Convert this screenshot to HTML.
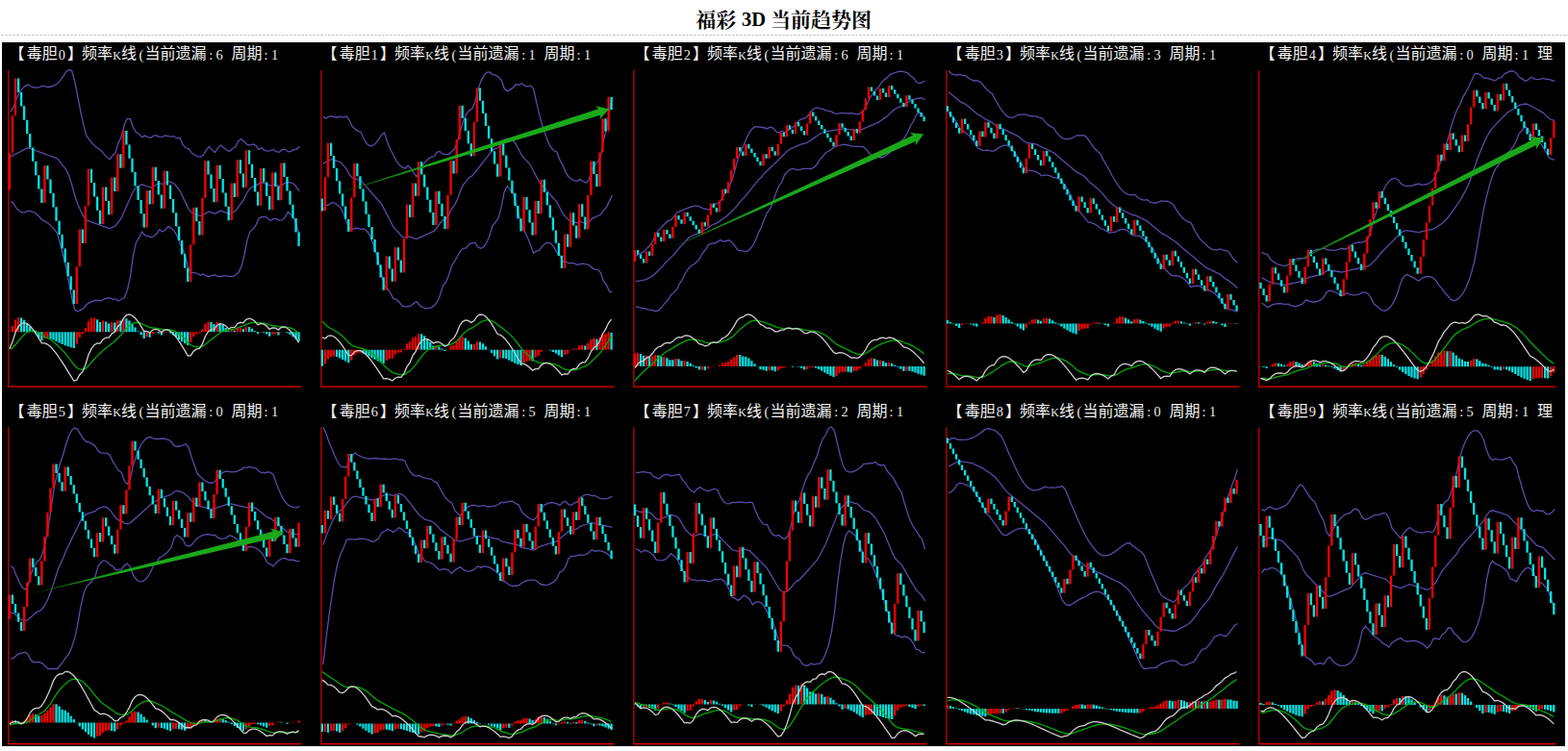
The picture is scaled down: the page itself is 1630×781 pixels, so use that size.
<!DOCTYPE html><html><head><meta charset="utf-8"><title>3D</title><style>html,body{margin:0;padding:0;background:#fff;overflow:hidden}body{width:1630px;height:781px;font-family:"Liberation Sans",sans-serif}</style></head><body><svg width="1630" height="781" viewBox="0 0 1630 781" style="display:block"><g fill="#000" font-family="'Liberation Serif','Noto Serif CJK SC',serif" font-weight="bold" font-size="21px"><text x="723.2" y="28.1">福彩</text><text x="801" y="28.1">当前趋势图</text></g><text x="771" y="27.3" font-family="Liberation Serif, serif" font-weight="bold" font-size="20.5px" fill="#000">3D</text><line x1="1" y1="36.5" x2="1630" y2="36.5" stroke="#c8c8c8" stroke-width="1" stroke-dasharray="3 1"/><rect x="2" y="44" width="1625" height="732" fill="#000"/><g><text y="61.2" fill="#f2f2f2" font-family="'Liberation Sans','Noto Sans CJK SC',sans-serif" font-size="16px"><tspan x="9.6">【</tspan><tspan x="27.7">毒胆</tspan><tspan x="70">】</tspan><tspan x="85">频率</tspan><tspan x="126">线</tspan><tspan x="150.5">当前遗漏</tspan><tspan x="240.6">周期</tspan></text><text y="61.7" fill="#ececec" font-family="'Liberation Serif',serif" font-size="14.4px"><tspan x="60.8">0</tspan><tspan x="117.3" font-size="12px">K</tspan><tspan x="144.6">(</tspan><tspan x="217.2">:</tspan><tspan x="224.6">6</tspan><tspan x="274.6">:</tspan><tspan x="282">1</tspan></text><path d="M8.8 73V402.1H313.5" fill="none" stroke="#f00000" stroke-width="1.1"/><polyline points="10.9,116.3 13.9,111.6 16.9,103.2 20,97 23,92.6 26,89.6 29.1,88.1 32.1,90 35.2,91 38.2,91.2 41.2,90.6 44.3,89.2 47.3,90.2 50.3,90.5 53.4,90 56.4,88.8 59.5,87 62.5,83.9 65.5,79.7 68.6,74.6 71.6,72.5 74.6,73.3 77.7,84.5 80.7,99.8 83.7,115.3 86.8,129.6 89.8,141.1 92.9,145.3 95.9,149 98.9,152.1 102,154.5 105,156.2 108,160.1 111.1,163.4 114.1,165.9 117.2,161.5 120.2,158.4 123.2,148.2 126.3,141.8 129.3,129.5 132.3,123.4 135.4,123.7 138.4,132.3 141.5,137.8 144.5,139.2 147.5,142.7 150.6,141.1 153.6,142.7 156.6,143.3 159.7,141.2 162.7,140.8 165.7,142.3 168.8,142.2 171.8,141 174.9,141.7 177.9,142.2 180.9,141.6 184,143.9 187,143.4 190,150.4 193.1,154 196.1,154.6 199.2,158.9 202.2,161.2 205.2,162.6 208.3,163.1 211.3,161.3 214.3,156.2 217.4,152.6 220.4,155.9 223.5,158.5 226.5,153.9 229.5,150.8 232.6,153.8 235.6,156 238.6,157.4 241.7,154.5 244.7,152.9 247.7,146.6 250.8,144.5 253.8,147.2 256.9,150.3 259.9,150.9 262.9,150 266,151.3 269,155.3 272,153.7 275.1,156.3 278.1,157.2 281.2,156.6 284.2,155.5 287.2,157.7 290.3,158.3 293.3,155.5 296.3,155.3 299.4,157.8 302.4,157.4 305.5,155.5 308.5,155.3 311.5,152.2" fill="none" stroke="#5a4aa8" stroke-width="1.3"/><polyline points="10.9,162.9 13.9,161.4 16.9,159.8 20,158.3 23,156.7 26,155.2 29.1,153.7 32.1,154.8 35.2,155.9 38.2,157 41.2,158.1 44.3,159.2 47.3,160.3 50.3,161.5 53.4,162.6 56.4,163.7 59.5,164.8 62.5,168.6 65.5,172.3 68.6,176.1 71.6,182.5 74.6,191.6 77.7,203.3 80.7,212.3 83.7,218.8 86.8,225.2 89.8,228.9 92.9,230.1 95.9,231.2 98.9,232.3 102,233.4 105,234.5 108,235.6 111.1,236.7 114.1,237.8 117.2,236.3 120.2,234.8 123.2,230.6 126.3,226.4 129.3,219.6 132.3,212.7 135.4,205.9 138.4,199 141.5,194.9 144.5,193.3 147.5,191.8 150.6,192.9 153.6,194 156.6,195.1 159.7,193.6 162.7,192 165.7,190.5 168.8,191.6 171.8,190.1 174.9,188.5 177.9,189.7 180.9,190.8 184,194.5 187,198.3 190,204.7 193.1,211.1 196.1,217.5 199.2,221.3 202.2,222.4 205.2,223.5 208.3,224.6 211.3,223.1 214.3,221.6 217.4,220 220.4,221.1 223.5,222.3 226.5,220.7 229.5,219.2 232.6,220.3 235.6,221.4 238.6,222.5 241.7,221 244.7,219.4 247.7,215.3 250.8,211.1 253.8,206.9 256.9,200 259.9,195.9 262.9,194.3 266,192.8 269,191.2 272,189.7 275.1,190.8 278.1,191.9 281.2,193.1 284.2,191.5 287.2,192.6 290.3,193.7 293.3,192.2 296.3,190.7 299.4,189.1 302.4,190.2 305.5,191.4 308.5,195.1 311.5,198.9" fill="none" stroke="#5a4aa8" stroke-width="1.3"/><polyline points="10.9,209.5 13.9,211.1 16.9,216.4 20,219.5 23,220.9 26,220.8 29.1,219.2 32.1,219.6 35.2,220.8 38.2,222.8 41.2,225.7 44.3,229.2 47.3,230.4 50.3,232.4 53.4,235.1 56.4,238.6 59.5,242.6 62.5,253.2 65.5,265 68.6,277.5 71.6,293.8 74.6,309.9 77.7,322.1 80.7,324 83.7,322.3 86.8,320.7 89.8,316.8 92.9,314.8 95.9,313.3 98.9,312.5 102,312.3 105,312.8 108,311.1 111.1,310.1 114.1,309.7 117.2,311.1 120.2,311.2 123.2,313 126.3,311 129.3,309.6 132.3,302 135.4,288.1 138.4,265.8 141.5,252 144.5,247.4 147.5,240.9 150.6,244.7 153.6,245.3 156.6,246.9 159.7,246 162.7,243.3 165.7,238.7 168.8,241 171.8,239.2 174.9,235.4 177.9,237.1 180.9,240 184,245.2 187,253.2 190,259 193.1,268.3 196.1,280.5 199.2,283.7 202.2,283.6 205.2,284.5 208.3,286.2 211.3,284.9 214.3,287 217.4,287.5 220.4,286.4 223.5,286 226.5,287.5 229.5,287.5 232.6,286.8 235.6,286.8 238.6,287.7 241.7,287.5 244.7,286 247.7,283.9 250.8,277.6 253.8,266.5 256.9,249.8 259.9,240.8 262.9,238.6 266,234.2 269,227.2 272,225.7 275.1,225.4 278.1,226.7 281.2,229.5 284.2,227.5 287.2,227.6 290.3,229.1 293.3,228.9 296.3,226.1 299.4,220.4 302.4,223.1 305.5,227.2 308.5,234.9 311.5,245.6" fill="none" stroke="#5a4aa8" stroke-width="1.3"/><path d="M9.9 158.9v38.6M13 120.2v38.6M16 81.6v38.6M46.4 172.2v38.6M79.8 277.3v38.6M82.8 238.6v38.6M88.9 214.3v38.6M91.9 175.7v38.6M107.1 194.5v38.6M116.2 184.6v38.6M122.3 160.3v38.6M128.4 136v38.6M152.7 198v38.6M158.8 173.7v38.6M170.9 178.1v38.6M198.2 254.4v38.6M201.3 215.8v38.6M210.4 205.9v38.6M213.4 167.2v38.6M225.6 171.7v38.6M240.8 190.5v38.6M246.8 166.2v38.6M255.9 156.3v38.6M271.1 175.1v38.6M283.3 179.6v38.6M292.4 169.6v38.6" stroke="#ff0000" stroke-width="2.3" fill="none"/><path d="M19.1 81.6v14.4M22.1 96v14.4M25.1 110.3v14.4M28.2 124.7v14.4M31.2 139.1v14.4M34.2 153.4v14.4M37.3 167.8v14.4M40.3 182.2v14.4M43.4 196.5v14.4M49.4 172.2v14.4M52.5 186.6v14.4M55.5 201v14.4M58.5 215.3v14.4M61.6 229.7v14.4M64.6 244.1v14.4M67.7 258.4v14.4M70.7 272.8v14.4M73.7 287.2v14.4M76.8 301.5v14.4M85.9 238.6v14.4M95 175.7v14.4M98 190.1v14.4M101.1 204.4v14.4M104.1 218.8v14.4M110.2 194.5v14.4M113.2 208.9v14.4M119.3 184.6v14.4M125.4 160.3v14.4M131.4 136v14.4M134.5 150.4v14.4M137.5 164.8v14.4M140.5 179.1v14.4M143.6 193.5v14.4M146.6 207.9v14.4M149.7 222.2v14.4M155.7 198v14.4M161.8 173.7v14.4M164.8 188v14.4M167.9 202.4v14.4M173.9 178.1v14.4M177 192.5v14.4M180 206.9v14.4M183.1 221.2v14.4M186.1 235.6v14.4M189.1 250v14.4M192.2 264.3v14.4M195.2 278.7v14.4M204.3 215.8v14.4M207.4 230.1v14.4M216.5 167.2v14.4M219.5 181.6v14.4M222.5 195.9v14.4M228.6 171.7v14.4M231.7 186v14.4M234.7 200.4v14.4M237.7 214.8v14.4M243.8 190.5v14.4M249.9 166.2v14.4M252.9 180.6v14.4M259 156.3v14.4M262 170.7v14.4M265.1 185v14.4M268.1 199.4v14.4M274.2 175.1v14.4M277.2 189.5v14.4M280.2 203.8v14.4M286.3 179.6v14.4M289.4 193.9v14.4M295.4 169.6v14.4M298.5 184v14.4M301.5 198.4v14.4M304.5 212.7v14.4M307.6 227.1v14.4M310.6 241.5v14.4" stroke="#00e6e6" stroke-width="2.3" fill="none"/><path d="M9.9 345.2V344.6M13 345.2V339.1M16 345.2V332.5M19.1 345.2V330.2M46.4 345.2V352.1M49.4 345.2V351.8M79.8 345.2V357.8M82.8 345.2V351M85.9 345.2V347.2M88.9 345.2V341.1M91.9 345.2V333.9M95 345.2V330.8M98 345.2V330.6M107.1 345.2V333.6M116.2 345.2V335M122.3 345.2V333.2M128.4 345.2V330.8M152.7 345.2V350.5M158.8 345.2V347.2M161.8 345.2V346.2M170.9 345.2V345.9M173.9 345.2V345.5M198.2 345.2V356.2M201.3 345.2V350.3M204.3 345.2V347.4M207.4 345.2V346.6M210.4 345.2V342.6M213.4 345.2V336.7M216.5 345.2V334.6M225.6 345.2V335.2M240.8 345.2V343.1M246.8 345.2V340.9M249.9 345.2V340.7M255.9 345.2V339.8M271.1 345.2V345.8M283.3 345.2V347.6M286.3 345.2V347.4M292.4 345.2V345.7M295.4 345.2V345.2" stroke="#ff0000" stroke-width="2.25" fill="none"/><path d="M22.1 345.2V330.6M25.1 345.2V332.8M28.2 345.2V336.1M31.2 345.2V339.8M34.2 345.2V343.7M37.3 345.2V347.4M40.3 345.2V350.9M43.4 345.2V354M52.5 345.2V352.4M55.5 345.2V353.6M58.5 345.2V355M61.6 345.2V356.5M64.6 345.2V357.9M67.7 345.2V359.2M70.7 345.2V360.3M73.7 345.2V361.2M76.8 345.2V361.9M101.1 345.2V332.2M104.1 345.2V334.9M110.2 345.2V334.5M113.2 345.2V336.6M119.3 345.2V335.6M125.4 345.2V333.4M131.4 345.2V331.2M134.5 345.2V333.4M137.5 345.2V336.7M140.5 345.2V340.5M143.6 345.2V344.5M146.6 345.2V348.3M149.7 345.2V351.9M155.7 345.2V350.7M164.8 345.2V346.8M167.9 345.2V348.4M177 345.2V346.6M180 345.2V348.4M183.1 345.2V350.6M186.1 345.2V352.9M189.1 345.2V355.2M192.2 345.2V357.3M195.2 345.2V359.1M219.5 345.2V335M222.5 345.2V336.9M228.6 345.2V335.9M231.7 345.2V338M234.7 345.2V340.9M237.7 345.2V344.2M243.8 345.2V343.7M252.9 345.2V342M259 345.2V340M262 345.2V341.7M265.1 345.2V344.2M268.1 345.2V347.2M274.2 345.2V346.1M277.2 345.2V347.6M280.2 345.2V349.7M289.4 345.2V348.5M298.5 345.2V346.2M301.5 345.2V348M304.5 345.2V350.3M307.6 345.2V352.7M310.6 345.2V355.1" stroke="#00e6e6" stroke-width="2.25" fill="none"/><polyline points="9.9,363.2 13,361.7 16,358.5 19.1,354.7 22.1,351.1 25.1,348 28.2,345.7 31.2,344.4 34.2,344 37.3,344.5 40.3,346 43.4,348.2 46.4,349.9 49.4,351.5 52.5,353.3 55.5,355.4 58.5,357.9 61.6,360.7 64.6,363.9 67.7,367.4 70.7,371.2 73.7,375.2 76.8,379.3 79.8,382.5 82.8,383.9 85.9,384.4 88.9,383.4 91.9,380.6 95,377 98,373.3 101.1,370.1 104.1,367.5 107.1,364.6 110.2,361.9 113.2,359.7 116.2,357.2 119.3,354.8 122.3,351.8 125.4,348.8 128.4,345.2 131.4,341.7 134.5,338.8 137.5,336.7 140.5,335.5 143.6,335.3 146.6,336.1 149.7,337.8 152.7,339.1 155.7,340.5 158.8,341 161.8,341.2 164.8,341.6 167.9,342.4 170.9,342.6 173.9,342.7 177,343 180,343.8 183.1,345.1 186.1,347.1 189.1,349.6 192.2,352.6 195.2,356.1 198.2,358.8 201.3,360.1 204.3,360.6 207.4,361 210.4,360.3 213.4,358.2 216.5,355.6 219.5,353 222.5,350.9 225.6,348.4 228.6,346.1 231.7,344.3 234.7,343.2 237.7,343 240.8,342.5 243.8,342.1 246.8,341 249.9,339.9 252.9,339.1 255.9,337.7 259,336.4 262,335.5 265.1,335.3 268.1,335.8 271.1,335.9 274.2,336.1 277.2,336.7 280.2,337.9 283.3,338.5 286.3,339 289.4,339.8 292.4,339.9 295.4,340 298.5,340.2 301.5,340.9 304.5,342.2 307.6,344 310.6,346.5" fill="none" stroke="#00aa00" stroke-width="1.3"/><polyline points="9.9,362.6 13,355.6 16,345.8 19.1,339.7 22.1,336.5 25.1,335.6 28.2,336.6 31.2,339 34.2,342.5 37.3,346.8 40.3,351.6 43.4,356.9 46.4,356.8 49.4,358.1 52.5,360.5 55.5,363.8 58.5,367.7 61.6,372 64.6,376.6 67.7,381.4 70.7,386.3 73.7,391.2 76.8,396 79.8,395.1 82.8,389.7 85.9,386.4 88.9,379.3 91.9,369.2 95,362.6 98,358.7 101.1,357 104.1,357.2 107.1,353 110.2,351.1 113.2,351.2 116.2,347 119.3,345.2 122.3,339.7 125.4,337 128.4,330.9 131.4,327.7 134.5,327 137.5,328.2 140.5,330.8 143.6,334.6 146.6,339.2 149.7,344.5 152.7,344.4 155.7,346 158.8,343 161.8,342.3 164.8,343.2 167.9,345.6 170.9,343.2 173.9,343 177,344.4 180,347 183.1,350.5 186.1,354.8 189.1,359.6 192.2,364.7 195.2,370 198.2,369.8 201.3,365.2 204.3,362.9 207.4,362.4 210.4,357.7 213.4,349.7 216.5,345 219.5,342.8 222.5,342.7 225.6,338.4 228.6,336.8 231.7,337.1 234.7,338.9 237.7,342 240.8,340.3 243.8,340.6 246.8,336.7 249.9,335.3 252.9,335.9 255.9,332.3 259,331.2 262,332 265.1,334.3 268.1,337.8 271.1,336.4 274.2,337 277.2,339.1 280.2,342.4 283.3,340.8 286.3,341.2 289.4,343.1 292.4,340.4 295.4,340 298.5,341.2 301.5,343.7 304.5,347.3 307.6,351.5 310.6,356.4" fill="none" stroke="#cdcdcd" stroke-width="1.3"/></g><g><text y="61.2" fill="#f2f2f2" font-family="'Liberation Sans','Noto Sans CJK SC',sans-serif" font-size="16px"><tspan x="334.6">【</tspan><tspan x="352.7">毒胆</tspan><tspan x="395">】</tspan><tspan x="410">频率</tspan><tspan x="451">线</tspan><tspan x="475.5">当前遗漏</tspan><tspan x="565.6">周期</tspan></text><text y="61.7" fill="#ececec" font-family="'Liberation Serif',serif" font-size="14.4px"><tspan x="385.8">1</tspan><tspan x="442.3" font-size="12px">K</tspan><tspan x="469.6">(</tspan><tspan x="542.2">:</tspan><tspan x="549.6">1</tspan><tspan x="599.6">:</tspan><tspan x="607">1</tspan></text><path d="M333.9 73V402.1H638.5" fill="none" stroke="#f00000" stroke-width="1.1"/><polyline points="335.9,121.2 338.9,123.1 341.9,121.1 345,120.8 348,121.9 351,122 354.1,121.2 357.1,122.1 360.2,120.8 363.2,125.2 366.2,131.5 369.3,134.4 372.3,136.4 375.3,137.5 378.4,144.8 381.4,149.6 384.5,151.7 387.5,151.3 390.5,148.9 393.6,145.1 396.6,140.2 399.6,138 402.7,147.7 405.7,155.3 408.7,160.8 411.8,166.8 414.8,171.1 417.9,173.7 420.9,175.2 423.9,172.4 427,175 430,179.6 433,183.8 436.1,177.3 439.1,172.1 442.2,168.2 445.2,165.3 448.2,163.4 451.3,162.5 454.3,158.4 457.3,157.5 460.4,160.2 463.4,160.7 466.5,160.3 469.5,157.8 472.5,154.8 475.6,147.6 478.6,135.7 481.6,125.9 484.7,118.7 487.7,115.1 490.7,113.2 493.8,106.2 496.8,93.6 499.9,84.6 502.9,78.6 505.9,75.3 509,74.9 512,77.6 515,78.2 518.1,79.9 521.1,83.2 524.2,91.8 527.2,94.9 530.2,93.4 533.3,91.2 536.3,87.8 539.3,88.3 542.4,87 545.4,89.2 548.5,89.9 551.5,89.1 554.5,92.1 557.6,106.1 560.6,118.8 563.6,129.7 566.7,139.4 569.7,147.4 572.7,153.3 575.8,156.8 578.8,157.8 581.9,166.3 584.9,171.6 587.9,178.9 591,183.7 594,186.3 597,187.9 600.1,188.4 603.1,186.4 606.2,188.8 609.2,190.1 612.2,187 615.3,176.2 618.3,171.6 621.3,168.6 624.4,162.6 627.4,146 630.5,134.3 633.5,115.1 636.5,101.8" fill="none" stroke="#5a4aa8" stroke-width="1.3"/><polyline points="335.9,169.8 338.9,168.4 341.9,167 345,165.6 348,166.6 351,167.7 354.1,168.7 357.1,172.1 360.2,175.6 363.2,181.5 366.2,184.9 369.3,185.9 372.3,186.9 375.3,188 378.4,191.4 381.4,194.9 384.5,198.3 387.5,201.8 390.5,205.2 393.6,208.7 396.6,212.1 399.6,218 402.7,223.9 405.7,229.7 408.7,235.6 411.8,239.1 414.8,242.5 417.9,246 420.9,247 423.9,245.6 427,246.6 430,247.6 433,248.6 436.1,247.2 439.1,245.8 442.2,244.4 445.2,243 448.2,241.6 451.3,240.2 454.3,236.4 457.3,232.5 460.4,228.7 463.4,227.3 466.5,223.4 469.5,217.2 472.5,213.3 475.6,207.1 478.6,198.4 481.6,192.1 484.7,188.3 487.7,184.4 490.7,183 493.8,179.2 496.8,175.3 499.9,171.5 502.9,167.7 505.9,163.8 509,160 512,156.1 515,154.7 518.1,153.3 521.1,149.5 524.2,145.6 527.2,144.2 530.2,145.3 533.3,146.3 536.3,149.7 539.3,155.6 542.4,161.5 545.4,164.9 548.5,168.4 551.5,171.8 554.5,177.7 557.6,183.6 560.6,189.5 563.6,192.9 566.7,196.4 569.7,199.8 572.7,203.3 575.8,206.7 578.8,210.2 581.9,216 584.9,221.9 587.9,225.4 591,228.8 594,229.8 597,230.9 600.1,231.9 603.1,230.5 606.2,231.5 609.2,232.5 612.2,231.1 615.3,227.3 618.3,225.9 621.3,224.5 624.4,223 627.4,219.2 630.5,215.4 633.5,209.1 636.5,202.8" fill="none" stroke="#5a4aa8" stroke-width="1.3"/><polyline points="335.9,218.5 338.9,213.8 341.9,212.9 345,210.4 348,211.3 351,213.3 354.1,216.2 357.1,222.2 360.2,230.4 363.2,237.7 366.2,238.3 369.3,237.5 372.3,237.5 375.3,238.4 378.4,238 381.4,240.1 384.5,244.9 387.5,252.2 390.5,261.5 393.6,272.3 396.6,284 399.6,297.9 402.7,300.1 405.7,304.2 408.7,310.4 411.8,311.3 414.8,313.9 417.9,318.2 420.9,318.8 423.9,318.8 427,318.2 430,315.6 433,313.5 436.1,317.2 439.1,319.5 442.2,320.7 445.2,320.7 448.2,319.8 451.3,317.9 454.3,314.3 457.3,307.5 460.4,297.1 463.4,293.8 466.5,286.5 469.5,276.6 472.5,271.8 475.6,266.5 478.6,261.1 481.6,258.3 484.7,257.8 487.7,253.7 490.7,252.8 493.8,252.2 496.8,257.1 499.9,258.4 502.9,256.7 505.9,252.3 509,245.1 512,234.6 515,231.3 518.1,226.8 521.1,215.7 524.2,199.5 527.2,193.6 530.2,197.1 533.3,201.3 536.3,211.7 539.3,222.9 542.4,235.9 545.4,240.6 548.5,246.9 551.5,254.6 554.5,263.3 557.6,261.1 560.6,260.1 563.6,256.1 566.7,253.3 569.7,252.2 572.7,253.2 575.8,256.7 578.8,262.6 581.9,265.8 584.9,272.2 587.9,271.8 591,273.9 594,273.4 597,273.8 600.1,275.4 603.1,274.6 606.2,274.2 609.2,274.9 612.2,275.3 615.3,278.4 618.3,280.1 621.3,280.3 624.4,283.5 627.4,292.4 630.5,296.4 633.5,303.1 636.5,303.8" fill="none" stroke="#5a4aa8" stroke-width="1.3"/><path d="M338 184.2v35.4M341 148.8v35.4M365.3 205.5v35.4M368.4 170.1v35.4M401.8 266.4v35.4M410.9 257.3v35.4M420 248.2v35.4M423 212.8v35.4M429.1 190.5v35.4M435.2 168.3v35.4M453.4 198.7v35.4M465.5 202.8v35.4M468.6 167.3v35.4M474.7 145.1v35.4M477.7 109.7v35.4M492.9 126.9v35.4M495.9 91.5v35.4M520.2 148.2v35.4M544.5 205v35.4M556.7 209.1v35.4M562.7 186.8v35.4M587 243.6v35.4M593.1 221.3v35.4M602.2 212.2v35.4M611.3 203.1v35.4M614.4 167.7v35.4M623.5 158.6v35.4M626.5 123.2v35.4M632.6 101v35.4" stroke="#ff0000" stroke-width="2.3" fill="none"/><path d="M334.9 206.4v13.2M344.1 148.8v13.2M347.1 161.9v13.2M350.1 175.1v13.2M353.2 188.3v13.2M356.2 201.4v13.2M359.2 214.6v13.2M362.3 227.8v13.2M371.4 170.1v13.2M374.4 183.3v13.2M377.5 196.4v13.2M380.5 209.6v13.2M383.5 222.8v13.2M386.6 235.9v13.2M389.6 249.1v13.2M392.7 262.3v13.2M395.7 275.4v13.2M398.7 288.6v13.2M404.8 266.4v13.2M407.8 279.5v13.2M413.9 257.3v13.2M416.9 270.4v13.2M426.1 212.8v13.2M432.1 190.5v13.2M438.2 168.3v13.2M441.2 181.4v13.2M444.3 194.6v13.2M447.3 207.8v13.2M450.4 220.9v13.2M456.4 198.7v13.2M459.5 211.8v13.2M462.5 225v13.2M471.6 167.3v13.2M480.7 109.7v13.2M483.8 122.8v13.2M486.8 136v13.2M489.8 149.2v13.2M498.9 91.5v13.2M502 104.7v13.2M505 117.8v13.2M508.1 131v13.2M511.1 144.2v13.2M514.1 157.3v13.2M517.2 170.5v13.2M523.2 148.2v13.2M526.3 161.4v13.2M529.3 174.6v13.2M532.4 187.7v13.2M535.4 200.9v13.2M538.4 214.1v13.2M541.5 227.2v13.2M547.5 205v13.2M550.6 218.2v13.2M553.6 231.3v13.2M559.7 209.1v13.2M565.8 186.8v13.2M568.8 200v13.2M571.8 213.2v13.2M574.9 226.3v13.2M577.9 239.5v13.2M580.9 252.7v13.2M584 265.8v13.2M590.1 243.6v13.2M596.1 221.3v13.2M599.2 234.5v13.2M605.2 212.2v13.2M608.3 225.4v13.2M617.4 167.7v13.2M620.4 180.9v13.2M629.5 123.2v13.2M635.6 101v13.2" stroke="#00e6e6" stroke-width="2.3" fill="none"/><path d="M338 363.8V378.4M341 363.8V373.4M344.1 363.8V371.1M347.1 363.8V370.5M365.3 363.8V374.7M368.4 363.8V369.6M371.4 363.8V367.3M374.4 363.8V366.8M401.8 363.8V374.9M404.8 363.8V373.3M407.8 363.8V372.7M410.9 363.8V368.7M413.9 363.8V366.8M416.9 363.8V366.4M420 363.8V362.8M423 363.8V357.4M426.1 363.8V355.3M429.1 363.8V351.2M432.1 363.8V350.3M435.2 363.8V347.3M453.4 363.8V359.3M465.5 363.8V363.6M468.6 363.8V359.8M471.6 363.8V358.8M474.7 363.8V355.6M477.7 363.8V351.2M480.7 363.8V350.3M492.9 363.8V357.7M495.9 363.8V355.2M520.2 363.8V372.4M544.5 363.8V377.3M547.5 363.8V375.8M550.6 363.8V375.3M556.7 363.8V371.8M559.7 363.8V370.1M562.7 363.8V365.7M565.8 363.8V363.8M568.8 363.8V363.6M587 363.8V368.9M590.1 363.8V368.1M593.1 363.8V364.2M596.1 363.8V362.7M599.2 363.8V362.7M602.2 363.8V359.6M605.2 363.8V358.8M611.3 363.8V357.1M614.4 363.8V352.9M617.4 363.8V351.8M623.5 363.8V350.9M626.5 363.8V347.5M629.5 363.8V347.3M632.6 363.8V345.1" stroke="#ff0000" stroke-width="2.25" fill="none"/><path d="M334.9 363.8V380.8M350.1 363.8V371.1M353.2 363.8V372.4M356.2 363.8V373.9M359.2 363.8V375.6M362.3 363.8V377.2M377.5 363.8V367.4M380.5 363.8V368.7M383.5 363.8V370.3M386.6 363.8V372.1M389.6 363.8V373.8M392.7 363.8V375.4M395.7 363.8V376.8M398.7 363.8V378M438.2 363.8V347.3M441.2 363.8V349.2M444.3 363.8V352.2M447.3 363.8V355.8M450.4 363.8V359.6M456.4 363.8V360.4M459.5 363.8V362.5M462.5 363.8V364.9M483.8 363.8V351.6M486.8 363.8V354.4M489.8 363.8V357.9M498.9 363.8V355.4M502 363.8V357.3M505 363.8V360.2M508.1 363.8V363.6M511.1 363.8V367.1M514.1 363.8V370.5M517.2 363.8V373.6M523.2 363.8V372.4M526.3 363.8V373.3M529.3 363.8V374.7M532.4 363.8V376.2M535.4 363.8V377.7M538.4 363.8V379.1M541.5 363.8V380.3M553.6 363.8V375.4M571.8 363.8V364.4M574.9 363.8V365.9M577.9 363.8V367.6M580.9 363.8V369.5M584 363.8V371.3M608.3 363.8V359.5M620.4 363.8V352.7M635.6 363.8V345.9" stroke="#00e6e6" stroke-width="2.25" fill="none"/><polyline points="334.9,333.8 338,337.5 341,339.9 344.1,341.7 347.1,343.3 350.1,345.2 353.2,347.3 356.2,349.8 359.2,352.7 362.3,356.1 365.3,358.8 368.4,360.2 371.4,361.1 374.4,361.8 377.5,362.7 380.5,363.9 383.5,365.5 386.6,367.6 389.6,370.1 392.7,373 395.7,376.2 398.7,379.8 401.8,382.5 404.8,384.9 407.8,387.1 410.9,388.4 413.9,389.1 416.9,389.7 420,389.5 423,387.9 426.1,385.7 429.1,382.6 432.1,379.2 435.2,375 438.2,370.9 441.2,367.3 444.3,364.4 447.3,362.3 450.4,361.3 453.4,360.1 456.4,359.3 459.5,358.9 462.5,359.2 465.5,359.1 468.6,358.1 471.6,356.9 474.7,354.8 477.7,351.6 480.7,348.2 483.8,345.2 486.8,342.8 489.8,341.3 492.9,339.8 495.9,337.6 498.9,335.5 502,333.8 505,332.9 508.1,332.9 511.1,333.7 514.1,335.3 517.2,337.8 520.2,339.9 523.2,342 526.3,344.4 529.3,347.1 532.4,350.2 535.4,353.7 538.4,357.5 541.5,361.6 544.5,364.9 547.5,367.9 550.6,370.8 553.6,373.7 556.7,375.7 559.7,377.2 562.7,377.7 565.8,377.7 568.8,377.6 571.8,377.8 574.9,378.3 577.9,379.2 580.9,380.6 584,382.5 587,383.8 590.1,384.8 593.1,384.9 596.1,384.6 599.2,384.3 602.2,383.3 605.2,382 608.3,380.9 611.3,379.2 614.4,376.5 617.4,373.5 620.4,370.7 623.5,367.4 626.5,363.4 629.5,359.2 632.6,354.5 635.6,350.1" fill="none" stroke="#00aa00" stroke-width="1.3"/><polyline points="334.9,350.8 338,352 341,349.4 344.1,348.9 347.1,350 350.1,352.4 353.2,355.8 356.2,359.9 359.2,364.5 362.3,369.5 365.3,369.6 368.4,366 371.4,364.6 374.4,364.7 377.5,366.3 380.5,368.8 383.5,372 386.6,375.9 389.6,380.1 392.7,384.6 395.7,389.2 398.7,393.9 401.8,393.6 404.8,394.4 407.8,396 410.9,393.2 413.9,392.1 416.9,392.3 420,388.4 423,381.4 426.1,377.1 429.1,369.9 432.1,365.6 435.2,358.5 438.2,354.4 441.2,352.6 444.3,352.7 447.3,354.3 450.4,357 453.4,355.6 456.4,355.9 459.5,357.5 462.5,360.3 465.5,358.8 468.6,354.1 471.6,351.9 474.7,346.6 477.7,339 480.7,334.6 483.8,333 486.8,333.4 489.8,335.4 492.9,333.6 495.9,328.9 498.9,327 502,327.3 505,329.3 508.1,332.6 511.1,336.9 514.1,342 517.2,347.5 520.2,348.4 523.2,350.6 526.3,353.9 529.3,357.9 532.4,362.5 535.4,367.5 538.4,372.7 541.5,378 544.5,378.4 547.5,379.9 550.6,382.2 553.6,385.2 556.7,383.6 559.7,383.5 562.7,379.6 565.8,377.7 568.8,377.4 571.8,378.3 574.9,380.3 577.9,383 580.9,386.3 584,389.9 587,388.8 590.1,389.1 593.1,385.3 596.1,383.4 599.2,383.1 602.2,379 605.2,377 608.3,376.6 611.3,372.5 614.4,365.5 617.4,361.4 620.4,359.5 623.5,354.5 626.5,347 629.5,342.6 632.6,335.8 635.6,332.2" fill="none" stroke="#cdcdcd" stroke-width="1.3"/></g><g><text y="61.2" fill="#f2f2f2" font-family="'Liberation Sans','Noto Sans CJK SC',sans-serif" font-size="16px"><tspan x="659.6">【</tspan><tspan x="677.7">毒胆</tspan><tspan x="720">】</tspan><tspan x="735">频率</tspan><tspan x="776">线</tspan><tspan x="800.5">当前遗漏</tspan><tspan x="890.6">周期</tspan></text><text y="61.7" fill="#ececec" font-family="'Liberation Serif',serif" font-size="14.4px"><tspan x="710.8">2</tspan><tspan x="767.3" font-size="12px">K</tspan><tspan x="794.6">(</tspan><tspan x="867.2">:</tspan><tspan x="874.6">6</tspan><tspan x="924.6">:</tspan><tspan x="932">1</tspan></text><path d="M658.9 73V402.1H963.5" fill="none" stroke="#f00000" stroke-width="1.1"/><polyline points="660.9,266.4 663.9,264.4 666.9,262.8 670,261.5 673,257.7 676,254.9 679.1,250 682.1,243.2 685.2,238.6 688.2,236 691.2,232.5 694.3,229.7 697.3,228.9 700.3,225.6 703.4,221.2 706.4,219.8 709.5,218.7 712.5,217.3 715.5,216.2 718.6,215.1 721.6,214.1 724.6,214.1 727.7,215.1 730.7,216.7 733.7,217.4 736.8,218.3 739.8,215.2 742.9,212.7 745.9,211.7 748.9,209.3 752,203.4 755,199.9 758,194.8 761.1,186.6 764.1,176.6 767.2,165.2 770.2,157 773.2,150.8 776.3,143 779.3,137.3 782.3,133.6 785.4,131.7 788.4,132 791.5,132.3 794.5,133 797.5,133.7 800.6,132.3 803.6,133 806.6,136.6 809.7,138 812.7,136.2 815.7,137.9 818.8,135.6 821.8,133.5 824.9,131.8 827.9,127.8 830.9,125.1 834,123.6 837,122.9 840,120.3 843.1,115.7 846.1,113 849.2,111.9 852.2,112.8 855.2,113.1 858.3,114.8 861.3,115.3 864.3,116.2 867.4,117.8 870.4,118.3 873.5,117.7 876.5,117.6 879.5,117.9 882.6,118 885.6,117.7 888.6,118.4 891.7,118.8 894.7,117.9 897.7,114.7 900.8,109.4 903.8,102.8 906.9,97.9 909.9,94.1 912.9,91.3 916,86.4 919,83 922,80.9 925.1,77.6 928.1,76.4 931.2,75.3 934.2,74.3 937.2,74.2 940.3,74.9 943.3,75.7 946.3,78.8 949.4,80.8 952.4,85 955.5,86.7 958.5,85.7 961.5,84.1" fill="none" stroke="#5a4aa8" stroke-width="1.3"/><polyline points="660.9,292.5 663.9,292.1 666.9,291.6 670,291.1 673,289.8 676,288.5 679.1,286.4 682.1,283.5 685.2,280.5 688.2,277.6 691.2,273.8 694.3,270.9 697.3,267.9 700.3,265 703.4,261.2 706.4,257.5 709.5,254.5 712.5,250.8 715.5,247.8 718.6,245.7 721.6,244.4 724.6,243.1 727.7,241.8 730.7,239.7 733.7,238.4 736.8,236.3 739.8,234.2 742.9,232.9 745.9,231.6 748.9,229.4 752,227.3 755,225.2 758,222.3 761.1,219.3 764.1,216.4 767.2,212.6 770.2,208.9 773.2,205.9 776.3,202.2 779.3,198.4 782.3,194.6 785.4,190.9 788.4,187.1 791.5,184.2 794.5,180.4 797.5,177.5 800.6,174.5 803.6,171.6 806.6,168.7 809.7,165.7 812.7,162.8 815.7,159.8 818.8,156.9 821.8,154.8 824.9,153.5 827.9,152.2 830.9,150.9 834,149.6 837,149.1 840,147.8 843.1,145.7 846.1,143.6 849.2,141.5 852.2,139.3 855.2,138 858.3,136.7 861.3,136.3 864.3,135.8 867.4,135.3 870.4,134.8 873.5,134.4 876.5,133.9 879.5,134.2 882.6,134.6 885.6,134.9 888.6,135.3 891.7,135.6 894.7,135.1 897.7,133.8 900.8,132.5 903.8,131.2 906.9,129.9 909.9,128.7 912.9,127.4 916,125.2 919,123.1 922,121 925.1,118.1 928.1,115.1 931.2,113 934.2,111.7 937.2,110.4 940.3,109.1 943.3,107 946.3,104.9 949.4,103.6 952.4,102.3 955.5,101.8 958.5,102.1 961.5,103.3" fill="none" stroke="#5a4aa8" stroke-width="1.3"/><polyline points="660.9,318.7 663.9,319.7 666.9,320.4 670,320.7 673,321.9 676,322.1 679.1,322.8 682.1,323.7 685.2,322.4 688.2,319.2 691.2,315.1 694.3,312.1 697.3,307 700.3,304.4 703.4,301.2 706.4,295.1 709.5,290.3 712.5,284.2 715.5,279.5 718.6,276.3 721.6,274.7 724.6,272.1 727.7,268.5 730.7,262.7 733.7,259.4 736.8,254.2 739.8,253.2 742.9,253 745.9,251.4 748.9,249.6 752,251.3 755,250.5 758,249.8 761.1,252.1 764.1,256.2 767.2,260.1 770.2,260.7 773.2,261.1 776.3,261.3 779.3,259.5 782.3,255.7 785.4,250 788.4,242.2 791.5,236 794.5,227.9 797.5,221.3 800.6,216.8 803.6,210.2 806.6,200.7 809.7,193.4 812.7,189.3 815.7,181.7 818.8,178.2 821.8,176.1 824.9,175.2 827.9,176.6 830.9,176.6 834,175.6 837,175.4 840,175.3 843.1,175.7 846.1,174.2 849.2,171 852.2,165.9 855.2,163 858.3,158.7 861.3,157.3 864.3,155.4 867.4,152.9 870.4,151.4 873.5,151.1 876.5,150.2 879.5,150.5 882.6,151.2 885.6,152.1 888.6,152.1 891.7,152.4 894.7,152.4 897.7,152.9 900.8,155.7 903.8,159.7 906.9,162 909.9,163.2 912.9,163.4 916,164 919,163.2 922,161.1 925.1,158.5 928.1,153.9 931.2,150.7 934.2,149.1 937.2,146.6 940.3,143.4 943.3,138.3 946.3,131 949.4,126.3 952.4,119.6 955.5,116.9 958.5,118.6 961.5,122.6" fill="none" stroke="#5a4aa8" stroke-width="1.3"/><path d="M660 260.1v12M672.1 261.5v12M678.2 253.9v12M681.2 242v12M690.3 238.9v12M699.4 235.8v12M702.5 223.9v12M711.6 220.8v12M729.8 231.1v12M735.9 223.5v12M738.9 211.6v12M748 208.5v12M751.1 196.5v12M757.1 189v12M760.2 177v12M763.2 165.1v12M766.2 153.1v12M775.4 150v12M793.6 160.3v12M799.7 152.8v12M808.8 149.7v12M811.8 137.7v12M817.9 130.2v12M827 127.1v12M839.1 128.5v12M842.2 116.5v12M869.5 140.2v12M872.5 128.2v12M887.7 134v12M893.8 126.5v12M896.8 114.5v12M899.9 102.6v12M902.9 90.6v12M915.1 92v12M924.2 88.9v12M942.4 99.2v12" stroke="#ff0000" stroke-width="2.3" fill="none"/><path d="M663 260.1v4.5M666 264.5v4.5M669.1 269v4.5M675.1 261.5v4.5M684.2 242v4.5M687.3 246.4v4.5M693.4 238.9v4.5M696.4 243.4v4.5M705.5 223.9v4.5M708.5 228.3v4.5M714.6 220.8v4.5M717.7 225.2v4.5M720.7 229.7v4.5M723.7 234.1v4.5M726.8 238.6v4.5M732.8 231.1v4.5M741.9 211.6v4.5M745 216v4.5M754.1 196.5v4.5M769.3 153.1v4.5M772.3 157.5v4.5M778.4 150v4.5M781.4 154.5v4.5M784.5 158.9v4.5M787.5 163.4v4.5M790.5 167.8v4.5M796.6 160.3v4.5M802.7 152.8v4.5M805.7 157.2v4.5M814.8 137.7v4.5M820.9 130.2v4.5M823.9 134.7v4.5M830 127.1v4.5M833.1 131.6v4.5M836.1 136v4.5M845.2 116.5v4.5M848.2 121v4.5M851.3 125.4v4.5M854.3 129.9v4.5M857.4 134.3v4.5M860.4 138.8v4.5M863.4 143.2v4.5M866.5 147.7v4.5M875.6 128.2v4.5M878.6 132.7v4.5M881.7 137.1v4.5M884.7 141.6v4.5M890.8 134v4.5M905.9 90.6v4.5M909 95v4.5M912 99.5v4.5M918.1 92v4.5M921.1 96.4v4.5M927.2 88.9v4.5M930.2 93.3v4.5M933.3 97.8v4.5M936.3 102.2v4.5M939.4 106.7v4.5M945.4 99.2v4.5M948.5 103.6v4.5M951.5 108.1v4.5M954.5 112.5v4.5M957.6 117v4.5M960.6 121.4v4.5" stroke="#00e6e6" stroke-width="2.3" fill="none"/><path d="M660 381V367.6M663 381V367M672.1 381V369.7M678.2 381V370.4M681.2 381V369M690.3 381V370.9M702.5 381V373.1M711.6 381V375M729.8 381V384.4M735.9 381V383.6M738.9 381V381.1M741.9 381V380.4M748 381V379.7M751.1 381V377.5M754.1 381V377.2M757.1 381V375.7M760.2 381V373.6M763.2 381V371.3M766.2 381V368.9M799.7 381V385M808.8 381V385.2M811.8 381V383M814.8 381V382.6M817.9 381V380.8M820.9 381V380.7M827 381V380.9M839.1 381V383.9M842.2 381V382.1M845.2 381V381.9M869.5 381V390.9M872.5 381V388.1M875.6 381V386.8M878.6 381V386.5M887.7 381V386.1M890.8 381V385.6M893.8 381V383.5M896.8 381V380.5M899.9 381V377M902.9 381V373.4M905.9 381V372.3M915.1 381V374.4M924.2 381V377.1M942.4 381V385.4" stroke="#ff0000" stroke-width="2.25" fill="none"/><path d="M666 381V367.9M669.1 381V369.7M675.1 381V370.9M684.2 381V369.4M687.3 381V371M693.4 381V372.2M696.4 381V374.2M699.4 381V374.2M705.5 381V373.6M708.5 381V375.2M714.6 381V376M717.7 381V377.8M720.7 381V380M723.7 381V382.4M726.8 381V384.6M732.8 381V384.9M745 381V380.9M769.3 381V369M772.3 381V370.6M775.4 381V370.9M778.4 381V372.6M781.4 381V375.2M784.5 381V378.2M787.5 381V381.3M790.5 381V384.3M793.6 381V384.7M796.6 381V385.8M802.7 381V385.2M805.7 381V386.2M823.9 381V381.7M830 381V381.4M833.1 381V382.7M836.1 381V384.4M848.2 381V382.7M851.3 381V384M854.3 381V385.7M857.4 381V387.5M860.4 381V389.1M863.4 381V390.7M866.5 381V392.1M881.7 381V386.8M884.7 381V387.5M909 381V372.9M912 381V374.5M918.1 381V375.4M921.1 381V377.3M927.2 381V378.1M930.2 381V379.8M933.3 381V381.8M936.3 381V383.8M939.4 381V385.9M945.4 381V385.8M948.5 381V386.6M951.5 381V387.6M954.5 381V388.7M957.6 381V389.8M960.6 381V390.8" stroke="#00e6e6" stroke-width="2.25" fill="none"/><polyline points="660,396 663,392.5 666,389.2 669.1,386.4 672.1,383.6 675.1,381.1 678.2,378.4 681.2,375.4 684.2,372.5 687.3,370 690.3,367.5 693.4,365.3 696.4,363.6 699.4,361.9 702.5,359.9 705.5,358.1 708.5,356.6 711.6,355.1 714.6,353.9 717.7,353.1 720.7,352.8 723.7,353.2 726.8,354.1 729.8,354.9 732.8,355.9 735.9,356.6 738.9,356.6 741.9,356.4 745,356.4 748,356.1 751.1,355.2 754.1,354.3 757.1,352.9 760.2,351.1 763.2,348.7 766.2,345.6 769.3,342.6 772.3,340 775.4,337.5 778.4,335.4 781.4,333.9 784.5,333.2 787.5,333.3 790.5,334.1 793.6,335 796.6,336.2 799.7,337.2 802.7,338.3 805.7,339.6 808.8,340.6 811.8,341.2 814.8,341.6 817.9,341.5 820.9,341.4 823.9,341.6 827,341.6 830,341.7 833.1,342.1 836.1,343 839.1,343.7 842.2,344 845.2,344.2 848.2,344.6 851.3,345.4 854.3,346.6 857.4,348.2 860.4,350.2 863.4,352.7 866.5,355.4 869.5,357.9 872.5,359.6 875.6,361.1 878.6,362.5 881.7,363.9 884.7,365.6 887.7,366.8 890.8,368 893.8,368.6 896.8,368.5 899.9,367.5 902.9,365.6 905.9,363.4 909,361.4 912,359.8 915.1,358.1 918.1,356.8 921.1,355.8 924.2,354.9 927.2,354.1 930.2,353.8 933.3,354 936.3,354.7 939.4,356 942.4,357.1 945.4,358.2 948.5,359.6 951.5,361.3 954.5,363.2 957.6,365.4 960.6,367.9" fill="none" stroke="#00aa00" stroke-width="1.3"/><polyline points="660,382.6 663,378.5 666,376.1 669.1,375.1 672.1,372.3 675.1,370.9 678.2,367.8 681.2,363.4 684.2,361 687.3,360.1 690.3,357.4 693.4,356.5 696.4,356.8 699.4,355.1 702.5,352 705.5,350.7 708.5,350.8 711.6,349.1 714.6,348.9 717.7,349.9 720.7,351.9 723.7,354.5 726.8,357.7 729.8,358.3 732.8,359.9 735.9,359.2 738.9,356.7 741.9,355.9 745,356.3 748,354.8 751.1,351.7 754.1,350.5 757.1,347.7 760.2,343.7 763.2,338.9 766.2,333.5 769.3,330.6 772.3,329.7 775.4,327.4 778.4,327 781.4,328.1 784.5,330.4 787.5,333.6 790.5,337.4 793.6,338.7 796.6,341 799.7,341.2 802.7,342.5 805.7,344.8 808.8,344.9 811.8,343.2 814.8,343.1 817.9,341.3 820.9,341.2 823.9,342.3 827,341.5 830,342.1 833.1,343.8 836.1,346.4 839.1,346.7 842.2,345.1 845.2,345.1 848.2,346.3 851.3,348.4 854.3,351.3 857.4,354.6 860.4,358.4 863.4,362.4 866.5,366.5 869.5,367.7 872.5,366.7 875.6,366.9 878.6,368 881.7,369.8 884.7,372.1 887.7,371.9 890.8,372.6 893.8,371.2 896.8,368 899.9,363.5 902.9,358 905.9,354.8 909,353.3 912,353.3 915.1,351.5 918.1,351.2 921.1,352.1 924.2,351 927.2,351.3 930.2,352.6 933.3,354.8 936.3,357.6 939.4,360.8 942.4,361.5 945.4,363 948.5,365.2 951.5,367.9 954.5,370.9 957.6,374.3 960.6,377.7" fill="none" stroke="#cdcdcd" stroke-width="1.3"/></g><g><text y="61.2" fill="#f2f2f2" font-family="'Liberation Sans','Noto Sans CJK SC',sans-serif" font-size="16px"><tspan x="984.6">【</tspan><tspan x="1002.7">毒胆</tspan><tspan x="1045">】</tspan><tspan x="1060">频率</tspan><tspan x="1101">线</tspan><tspan x="1125.5">当前遗漏</tspan><tspan x="1215.6">周期</tspan></text><text y="61.7" fill="#ececec" font-family="'Liberation Serif',serif" font-size="14.4px"><tspan x="1035.8">3</tspan><tspan x="1092.3" font-size="12px">K</tspan><tspan x="1119.6">(</tspan><tspan x="1192.2">:</tspan><tspan x="1199.6">3</tspan><tspan x="1249.6">:</tspan><tspan x="1257">1</tspan></text><path d="M983.9 73V402.1H1288.5" fill="none" stroke="#f00000" stroke-width="1.1"/><polyline points="985.9,73.6 988.9,76.4 991.9,77.8 995,78 998,77.4 1001,78.5 1004.1,78.8 1007.1,81.5 1010.2,83.2 1013.2,84 1016.2,84 1019.3,85.2 1022.3,89 1025.3,92.5 1028.4,95.3 1031.4,97.4 1034.5,103.3 1037.5,108.6 1040.5,113.5 1043.6,117.6 1046.6,120.6 1049.6,122.1 1052.7,122.1 1055.7,121 1058.7,119.1 1061.8,119.4 1064.8,118.7 1067.9,119.8 1070.9,120.5 1073.9,120.8 1077,120.9 1080,122.2 1083,122.7 1086.1,126.4 1089.1,129.4 1092.2,131.6 1095.2,132.9 1098.2,137.6 1101.3,141.3 1104.3,143.6 1107.3,144.7 1110.4,144.7 1113.4,143.9 1116.5,142.5 1119.5,140.8 1122.5,141 1125.6,140.6 1128.6,141.6 1131.6,145.5 1134.7,150.1 1137.7,154 1140.7,157.2 1143.8,159.7 1146.8,165.9 1149.9,171.5 1152.9,176.4 1155.9,182.3 1159,187.5 1162,192.3 1165,196.4 1168.1,199.6 1171.1,201.7 1174.2,202.6 1177.2,202.4 1180.2,202.8 1183.3,205.7 1186.3,207.5 1189.3,208.1 1192.4,207.7 1195.4,210 1198.5,211 1201.5,211 1204.5,210.2 1207.6,208.8 1210.6,209.3 1213.6,209.1 1216.7,210.7 1219.7,212.7 1222.7,217.9 1225.8,222.5 1228.8,226.1 1231.9,228.8 1234.9,230.6 1237.9,231.4 1241,237.6 1244,243.2 1247,247.9 1250.1,251.4 1253.1,253.8 1256.2,256.8 1259.2,258.8 1262.2,259.8 1265.3,259.8 1268.3,258.9 1271.3,260.2 1274.4,260.5 1277.4,262 1280.5,266.8 1283.5,270.6 1286.5,273.4" fill="none" stroke="#5a4aa8" stroke-width="1.3"/><polyline points="985.9,95.4 988.9,97.9 991.9,100.5 995,103 998,105.6 1001,107.1 1004.1,108.6 1007.1,111.1 1010.2,113.7 1013.2,116.2 1016.2,118.8 1019.3,120.3 1022.3,122.8 1025.3,124.3 1028.4,125.8 1031.4,127.3 1034.5,129.9 1037.5,131.4 1040.5,132.9 1043.6,134.4 1046.6,135.9 1049.6,137.4 1052.7,138.9 1055.7,140.4 1058.7,141.9 1061.8,144.4 1064.8,147 1067.9,148.5 1070.9,148.9 1073.9,149.4 1077,149.8 1080,151.3 1083,152.8 1086.1,154.3 1089.1,155.8 1092.2,157.3 1095.2,158.8 1098.2,161.3 1101.3,163.9 1104.3,166.5 1107.3,169 1110.4,171.6 1113.4,174.1 1116.5,176.7 1119.5,179.2 1122.5,180.7 1125.6,182.2 1128.6,184.8 1131.6,188.4 1134.7,190.9 1137.7,193.5 1140.7,196 1143.8,198.6 1146.8,202.2 1149.9,205.8 1152.9,209.4 1155.9,212 1159,214.5 1162,216 1165,217.5 1168.1,219 1171.1,220.5 1174.2,222 1177.2,223.5 1180.2,223.9 1183.3,225.4 1186.3,226.9 1189.3,228.4 1192.4,229.9 1195.4,232.5 1198.5,235 1201.5,237.6 1204.5,240.1 1207.6,242.7 1210.6,244.2 1213.6,245.7 1216.7,248.2 1219.7,249.7 1222.7,252.3 1225.8,254.8 1228.8,257.4 1231.9,259.9 1234.9,262.5 1237.9,265.1 1241,267.6 1244,270.2 1247,272.7 1250.1,275.3 1253.1,277.8 1256.2,279.3 1259.2,280.8 1262.2,282.3 1265.3,283.8 1268.3,285.3 1271.3,287.9 1274.4,290.4 1277.4,291.9 1280.5,294.5 1283.5,297 1286.5,299.6" fill="none" stroke="#5a4aa8" stroke-width="1.3"/><polyline points="985.9,117.2 988.9,119.5 991.9,123.2 995,128 998,133.8 1001,135.7 1004.1,138.4 1007.1,140.8 1010.2,144.2 1013.2,148.5 1016.2,153.6 1019.3,155.4 1022.3,156.7 1025.3,156.2 1028.4,156.4 1031.4,157.3 1034.5,156.5 1037.5,154.1 1040.5,152.3 1043.6,151.2 1046.6,151.2 1049.6,152.7 1052.7,155.7 1055.7,159.8 1058.7,164.6 1061.8,169.5 1064.8,175.2 1067.9,177.1 1070.9,177.4 1073.9,177.9 1077,178.7 1080,180.4 1083,182.9 1086.1,182.2 1089.1,182.2 1092.2,183 1095.2,184.7 1098.2,185.1 1101.3,186.5 1104.3,189.3 1107.3,193.3 1110.4,198.4 1113.4,204.3 1116.5,210.8 1119.5,217.6 1122.5,220.5 1125.6,223.9 1128.6,227.9 1131.6,231.2 1134.7,231.7 1137.7,232.9 1140.7,234.8 1143.8,237.5 1146.8,238.5 1149.9,240.1 1152.9,242.4 1155.9,241.6 1159,241.5 1162,239.8 1165,238.6 1168.1,238.4 1171.1,239.3 1174.2,241.4 1177.2,244.6 1180.2,245.1 1183.3,245.2 1186.3,246.4 1189.3,248.7 1192.4,252.2 1195.4,255 1198.5,259 1201.5,264.2 1204.5,270.1 1207.6,276.6 1210.6,279.1 1213.6,282.2 1216.7,285.7 1219.7,286.8 1222.7,286.6 1225.8,287.2 1228.8,288.7 1231.9,291.1 1234.9,294.4 1237.9,298.7 1241,297.6 1244,297.1 1247,297.6 1250.1,299.1 1253.1,301.9 1256.2,301.8 1259.2,302.8 1262.2,304.8 1265.3,307.8 1268.3,311.7 1271.3,315.5 1274.4,320.3 1277.4,321.8 1280.5,322.1 1283.5,323.4 1286.5,324" fill="none" stroke="#5a4aa8" stroke-width="1.3"/><path d="M1000.1 123.4v15.4M1018.4 136.6v15.4M1024.4 127v15.4M1036.6 128.7v15.4M1066.9 164.8v15.4M1070 149.4v15.4M1085.2 156.9v15.4M1121.6 204.4v15.4M1133.8 206.2v15.4M1155 225.1v15.4M1161.1 215.5v15.4M1179.3 228.7v15.4M1209.7 264.7v15.4M1218.8 260.8v15.4M1240.1 279.7v15.4M1255.2 287.2v15.4M1276.5 306.1v15.4" stroke="#ff0000" stroke-width="2.3" fill="none"/><path d="M985 110.2v5.7M988 115.9v5.7M991 121.7v5.7M994.1 127.4v5.7M997.1 133.1v5.7M1003.2 123.4v5.7M1006.2 129.1v5.7M1009.2 134.9v5.7M1012.3 140.6v5.7M1015.3 146.3v5.7M1021.4 136.6v5.7M1027.5 127v5.7M1030.5 132.7v5.7M1033.5 138.4v5.7M1039.6 128.7v5.7M1042.7 134.5v5.7M1045.7 140.2v5.7M1048.7 145.9v5.7M1051.8 151.6v5.7M1054.8 157.3v5.7M1057.8 163v5.7M1060.9 168.8v5.7M1063.9 174.5v5.7M1073 149.4v5.7M1076.1 155.2v5.7M1079.1 160.9v5.7M1082.1 166.6v5.7M1088.2 156.9v5.7M1091.2 162.6v5.7M1094.3 168.4v5.7M1097.3 174.1v5.7M1100.4 179.8v5.7M1103.4 185.5v5.7M1106.4 191.2v5.7M1109.5 196.9v5.7M1112.5 202.7v5.7M1115.5 208.4v5.7M1118.6 214.1v5.7M1124.7 204.4v5.7M1127.7 210.2v5.7M1130.7 215.9v5.7M1136.8 206.2v5.7M1139.8 211.9v5.7M1142.9 217.6v5.7M1145.9 223.4v5.7M1148.9 229.1v5.7M1152 234.8v5.7M1158.1 225.1v5.7M1164.1 215.5v5.7M1167.2 221.2v5.7M1170.2 226.9v5.7M1173.2 232.6v5.7M1176.3 238.3v5.7M1182.4 228.7v5.7M1185.4 234.4v5.7M1188.4 240.1v5.7M1191.5 245.8v5.7M1194.5 251.5v5.7M1197.5 257.3v5.7M1200.6 263v5.7M1203.6 268.7v5.7M1206.7 274.4v5.7M1212.7 264.7v5.7M1215.8 270.5v5.7M1221.8 260.8v5.7M1224.9 266.5v5.7M1227.9 272.2v5.7M1230.9 278v5.7M1234 283.7v5.7M1237 289.4v5.7M1243.1 279.7v5.7M1246.1 285.4v5.7M1249.2 291.2v5.7M1252.2 296.9v5.7M1258.3 287.2v5.7M1261.3 292.9v5.7M1264.4 298.6v5.7M1267.4 304.4v5.7M1270.4 310.1v5.7M1273.5 315.8v5.7M1279.5 306.1v5.7M1282.6 311.9v5.7M1285.6 317.6v5.7" stroke="#00e6e6" stroke-width="2.3" fill="none"/><path d="M1000.1 336.4V338.1M1003.2 336.4V336.9M1006.2 336.4V336.9M1018.4 336.4V336.6M1021.4 336.4V335.3M1024.4 336.4V330.9M1027.5 336.4V329M1030.5 336.4V329M1036.6 336.4V327.4M1039.6 336.4V327M1066.9 336.4V340.7M1070 336.4V335.1M1073 336.4V332.5M1076.1 336.4V331.8M1085.2 336.4V331.3M1088.2 336.4V330.8M1121.6 336.4V344.1M1124.7 336.4V342.2M1127.7 336.4V341.4M1130.7 336.4V341.4M1133.8 336.4V337.4M1136.8 336.4V335.6M1139.8 336.4V335.2M1155 336.4V336.6M1158.1 336.4V335.4M1161.1 336.4V331.1M1164.1 336.4V329.3M1167.2 336.4V329.3M1179.3 336.4V332M1182.4 336.4V331.7M1209.7 336.4V341.6M1212.7 336.4V340.1M1215.8 336.4V339.6M1218.8 336.4V335.5M1221.8 336.4V333.7M1224.9 336.4V333.4M1240.1 336.4V336.1M1243.1 336.4V335.1M1255.2 336.4V334.7M1258.3 336.4V333.7M1276.5 336.4V337.1M1279.5 336.4V336.1" stroke="#ff0000" stroke-width="2.25" fill="none"/><path d="M985 336.4V333M988 336.4V335M991 336.4V337.1M994.1 336.4V339.1M997.1 336.4V340.9M1009.2 336.4V337.5M1012.3 336.4V338.6M1015.3 336.4V339.8M1033.5 336.4V330.1M1042.7 336.4V328M1045.7 336.4V329.9M1048.7 336.4V332.2M1051.8 336.4V334.7M1054.8 336.4V337.2M1057.8 336.4V339.5M1060.9 336.4V341.7M1063.9 336.4V343.5M1079.1 336.4V332.4M1082.1 336.4V333.8M1091.2 336.4V331.6M1094.3 336.4V333.2M1097.3 336.4V335.3M1100.4 336.4V337.5M1103.4 336.4V339.6M1106.4 336.4V341.7M1109.5 336.4V343.5M1112.5 336.4V345.2M1115.5 336.4V346.5M1118.6 336.4V347.6M1142.9 336.4V335.7M1145.9 336.4V336.8M1148.9 336.4V338.1M1152 336.4V339.6M1170.2 336.4V330.4M1173.2 336.4V332.2M1176.3 336.4V334.3M1185.4 336.4V332.5M1188.4 336.4V334M1191.5 336.4V335.8M1194.5 336.4V337.9M1197.5 336.4V339.8M1200.6 336.4V341.7M1203.6 336.4V343.4M1206.7 336.4V344.8M1227.9 336.4V334.2M1230.9 336.4V335.5M1234 336.4V337.1M1237 336.4V338.8M1246.1 336.4V335.3M1249.2 336.4V336.2M1252.2 336.4V337.6M1261.3 336.4V334M1264.4 336.4V335M1267.4 336.4V336.5M1270.4 336.4V338.2M1273.5 336.4V339.9M1282.6 336.4V336.2M1285.6 336.4V337" stroke="#00e6e6" stroke-width="2.25" fill="none"/><polyline points="985,388.6 988,388.2 991,388.4 994.1,389.1 997.1,390.2 1000.1,390.7 1003.2,390.8 1006.2,390.9 1009.2,391.2 1012.3,391.8 1015.3,392.6 1018.4,392.7 1021.4,392.4 1024.4,391 1027.5,389.2 1030.5,387.4 1033.5,385.8 1036.6,383.5 1039.6,381.2 1042.7,379.1 1045.7,377.5 1048.7,376.4 1051.8,376 1054.8,376.2 1057.8,377 1060.9,378.3 1063.9,380.1 1066.9,381.2 1070,380.9 1073,379.9 1076.1,378.8 1079.1,377.8 1082.1,377.1 1085.2,375.9 1088.2,374.5 1091.2,373.3 1094.3,372.5 1097.3,372.2 1100.4,372.5 1103.4,373.3 1106.4,374.6 1109.5,376.4 1112.5,378.6 1115.5,381.1 1118.6,384 1121.6,385.9 1124.7,387.3 1127.7,388.6 1130.7,389.9 1133.8,390.1 1136.8,389.9 1139.8,389.6 1142.9,389.5 1145.9,389.6 1148.9,390 1152,390.8 1155,390.8 1158.1,390.6 1161.1,389.3 1164.1,387.5 1167.2,385.8 1170.2,384.3 1173.2,383.2 1176.3,382.7 1179.3,381.6 1182.4,380.4 1185.4,379.4 1188.4,378.8 1191.5,378.7 1194.5,379.1 1197.5,379.9 1200.6,381.3 1203.6,383 1206.7,385.1 1209.7,386.4 1212.7,387.4 1215.8,388.2 1218.8,388 1221.8,387.3 1224.9,386.6 1227.9,386 1230.9,385.8 1234,386 1237,386.6 1240.1,386.5 1243.1,386.2 1246.1,385.9 1249.2,385.9 1252.2,386.2 1255.2,385.7 1258.3,385.1 1261.3,384.5 1264.4,384.1 1267.4,384.2 1270.4,384.6 1273.5,385.5 1276.5,385.7 1279.5,385.6 1282.6,385.6 1285.6,385.7" fill="none" stroke="#00aa00" stroke-width="1.3"/><polyline points="985,385.2 988,386.9 991,389.1 994.1,391.8 997.1,394.7 1000.1,392.4 1003.2,391.4 1006.2,391.4 1009.2,392.4 1012.3,393.9 1015.3,396 1018.4,392.9 1021.4,391.4 1024.4,385.5 1027.5,381.9 1030.5,380 1033.5,379.5 1036.6,374.6 1039.6,371.8 1042.7,370.7 1045.7,371 1048.7,372.3 1051.8,374.4 1054.8,377 1057.8,380.2 1060.9,383.6 1063.9,387.3 1066.9,385.6 1070,379.6 1073,376 1076.1,374.2 1079.1,373.8 1082.1,374.6 1085.2,370.8 1088.2,368.9 1091.2,368.5 1094.3,369.3 1097.3,371.1 1100.4,373.6 1103.4,376.6 1106.4,379.9 1109.5,383.6 1112.5,387.4 1115.5,391.3 1118.6,395.2 1121.6,393.6 1124.7,393.2 1127.7,393.7 1130.7,394.9 1133.8,391.2 1136.8,389.2 1139.8,388.4 1142.9,388.8 1145.9,389.9 1148.9,391.7 1152,394 1155,391.1 1158.1,389.7 1161.1,384 1164.1,380.4 1167.2,378.7 1170.2,378.3 1173.2,379 1176.3,380.6 1179.3,377.3 1182.4,375.7 1185.4,375.5 1188.4,376.4 1191.5,378.2 1194.5,380.6 1197.5,383.4 1200.6,386.6 1203.6,390 1206.7,393.6 1209.7,391.7 1212.7,391.1 1215.8,391.5 1218.8,387.1 1221.8,384.6 1224.9,383.6 1227.9,383.8 1230.9,384.9 1234,386.7 1237,389 1240.1,386.2 1243.1,384.9 1246.1,384.8 1249.2,385.7 1252.2,387.4 1255.2,384 1258.3,382.4 1261.3,382.1 1264.4,382.8 1267.4,384.3 1270.4,386.4 1273.5,389 1276.5,386.4 1279.5,385.3 1282.6,385.4 1285.6,386.4" fill="none" stroke="#cdcdcd" stroke-width="1.3"/></g><g><text y="61.2" fill="#f2f2f2" font-family="'Liberation Sans','Noto Sans CJK SC',sans-serif" font-size="16px"><tspan x="1309.6">【</tspan><tspan x="1327.7">毒胆</tspan><tspan x="1370">】</tspan><tspan x="1385">频率</tspan><tspan x="1426">线</tspan><tspan x="1450.5">当前遗漏</tspan><tspan x="1540.6">周期</tspan><tspan x="1598">理</tspan></text><text y="61.7" fill="#ececec" font-family="'Liberation Serif',serif" font-size="14.4px"><tspan x="1360.8">4</tspan><tspan x="1417.3" font-size="12px">K</tspan><tspan x="1444.6">(</tspan><tspan x="1517.2">:</tspan><tspan x="1524.6">0</tspan><tspan x="1574.6">:</tspan><tspan x="1582">1</tspan></text><path d="M1308.8 73V402.1H1617.5" fill="none" stroke="#f00000" stroke-width="1.1"/><polyline points="1311.4,262.2 1314.5,263.9 1317.6,264.5 1320.7,269.9 1323.7,272.1 1326.8,274 1329.9,275.3 1333,276.1 1336.1,276.3 1339.1,275.3 1342.2,272.2 1345.3,270.2 1348.4,269 1351.5,268.5 1354.5,268.9 1357.6,268.7 1360.7,263.6 1363.8,261.4 1366.8,260 1369.9,259.2 1373,259.3 1376.1,258.2 1379.2,259.7 1382.2,259.9 1385.3,260.3 1388.4,260.1 1391.5,259.4 1394.6,258.3 1397.6,259.2 1400.7,258.3 1403.8,255.5 1406.9,253.5 1410,252.3 1413,251.9 1416.1,252.1 1419.2,250.7 1422.3,247.7 1425.3,239.4 1428.4,227 1431.5,218.5 1434.6,207 1437.7,198.8 1440.7,192.8 1443.8,188.6 1446.9,186.1 1450,185.4 1453.1,186.7 1456.1,190.5 1459.2,192.9 1462.3,193.6 1465.4,193.3 1468.5,192.8 1471.5,192 1474.6,191.1 1477.7,192.1 1480.8,192.2 1483.8,191.5 1486.9,189.8 1490,187.2 1493.1,180 1496.2,171.4 1499.2,164.4 1502.3,153.1 1505.4,144.1 1508.5,131.8 1511.6,122 1514.6,114.3 1517.7,108.5 1520.8,100.9 1523.9,95.8 1527,89.8 1530,83.2 1533.1,76.8 1536.2,76.4 1539.3,78 1542.3,81.1 1545.4,81.1 1548.5,82.1 1551.6,83.2 1554.7,83.9 1557.7,81.1 1560.8,80.9 1563.9,76.7 1567,75.3 1570.1,73.9 1573.1,74 1576.2,75.9 1579.3,80.3 1582.4,81.9 1585.5,84.5 1588.5,83 1591.6,80.2 1594.7,81.9 1597.8,82.6 1600.8,82.4 1603.9,81.4 1607,82.4 1610.1,82.4 1613.2,83.7 1616.2,84.5" fill="none" stroke="#5a4aa8" stroke-width="1.3"/><polyline points="1311.4,288.7 1314.5,290.4 1317.6,292.2 1320.7,293.9 1323.7,294.4 1326.8,294.9 1329.9,295.4 1333,295.9 1336.1,296.5 1339.1,295.7 1342.2,295 1345.3,294.3 1348.4,293.6 1351.5,292.9 1354.5,292.2 1357.6,290.3 1360.7,288.4 1363.8,287.7 1366.8,287 1369.9,286.3 1373,285.6 1376.1,283.6 1379.2,281.7 1382.2,281 1385.3,281.5 1388.4,282 1391.5,282.5 1394.6,283.1 1397.6,282.3 1400.7,281.6 1403.8,280.9 1406.9,280.2 1410,279.5 1413,278.8 1416.1,278.1 1419.2,277.4 1422.3,276.7 1425.3,274.8 1428.4,271.6 1431.5,268.5 1434.6,264.2 1437.7,261 1440.7,257.9 1443.8,254.7 1446.9,251.6 1450,248.5 1453.1,245.3 1456.1,242.2 1459.2,240.3 1462.3,239.6 1465.4,240.1 1468.5,240.6 1471.5,241.1 1474.6,241.6 1477.7,240.9 1480.8,240.2 1483.8,239.5 1486.9,238.8 1490,238.1 1493.1,236.2 1496.2,234.2 1499.2,232.3 1502.3,229.2 1505.4,226 1508.5,221.7 1511.6,217.3 1514.6,213 1517.7,208.6 1520.8,203.1 1523.9,197.5 1527,190.7 1530,182.7 1533.1,173.5 1536.2,164.3 1539.3,156.3 1542.3,149.5 1545.4,142.7 1548.5,137.1 1551.6,132.8 1554.7,129.6 1557.7,126.5 1560.8,123.4 1563.9,120.2 1567,117.1 1570.1,115.2 1573.1,113.2 1576.2,111.3 1579.3,109.4 1582.4,108.7 1585.5,108 1588.5,108.5 1591.6,110.2 1594.7,112 1597.8,113.7 1600.8,115.4 1603.9,117.1 1607,120.1 1610.1,123 1613.2,124.7 1616.2,125.3" fill="none" stroke="#5a4aa8" stroke-width="1.3"/><polyline points="1311.4,315.2 1314.5,317 1317.6,319.8 1320.7,317.9 1323.7,316.7 1326.8,315.9 1329.9,315.5 1333,315.8 1336.1,316.6 1339.1,316.2 1342.2,317.8 1345.3,318.5 1348.4,318.3 1351.5,317.3 1354.5,315.6 1357.6,311.9 1360.7,313.2 1363.8,314 1366.8,314 1369.9,313.3 1373,311.9 1376.1,309.1 1379.2,303.7 1382.2,302.1 1385.3,302.8 1388.4,304 1391.5,305.7 1394.6,307.8 1397.6,305.5 1400.7,305 1403.8,306.4 1406.9,306.9 1410,306.7 1413,305.8 1416.1,304.1 1419.2,304.1 1422.3,305.7 1425.3,310.1 1428.4,316.2 1431.5,318.5 1434.6,321.3 1437.7,323.2 1440.7,323 1443.8,320.9 1446.9,317.1 1450,311.6 1453.1,304 1456.1,293.9 1459.2,287.7 1462.3,285.5 1465.4,286.9 1468.5,288.4 1471.5,290.2 1474.6,292.2 1477.7,289.7 1480.8,288.2 1483.8,287.5 1486.9,287.8 1490,289 1493.1,292.3 1496.2,297.1 1499.2,300.3 1502.3,305.2 1505.4,308 1508.5,311.6 1511.6,312.7 1514.6,311.7 1517.7,308.8 1520.8,305.2 1523.9,299.2 1527,291.6 1530,282.2 1533.1,270.2 1536.2,252.1 1539.3,234.5 1542.3,217.9 1545.4,204.3 1548.5,192.2 1551.6,182.4 1554.7,175.4 1557.7,171.9 1560.8,165.9 1563.9,163.7 1567,158.9 1570.1,156.5 1573.1,152.5 1576.2,146.7 1579.3,138.5 1582.4,135.5 1585.5,131.5 1588.5,134 1591.6,140.2 1594.7,142 1597.8,144.7 1600.8,148.4 1603.9,152.9 1607,157.8 1610.1,163.6 1613.2,165.7 1616.2,166.1" fill="none" stroke="#5a4aa8" stroke-width="1.3"/><path d="M1319.7 295.7v17.7M1322.8 278v17.7M1338.2 286.6v17.7M1341.3 268.9v17.7M1356.7 277.5v17.7M1359.8 259.8v17.7M1375.2 268.4v17.7M1396.7 290.2v17.7M1399.8 272.5v17.7M1402.9 254.8v17.7M1418.3 263.4v17.7M1421.3 245.7v17.7M1424.4 228v17.7M1427.5 210.2v17.7M1433.7 199.1v17.7M1476.8 267v17.7M1479.8 249.3v17.7M1482.9 231.6v17.7M1486 213.8v17.7M1489.1 196.1v17.7M1492.2 178.4v17.7M1495.2 160.7v17.7M1501.4 149.5v17.7M1507.6 138.4v17.7M1519.9 140.4v17.7M1526 129.3v17.7M1529.1 111.6v17.7M1532.2 93.8v17.7M1544.5 95.9v17.7M1556.8 97.9v17.7M1563 86.8v17.7M1593.8 128.4v17.7M1612.2 143.6v17.7M1615.3 125.9v17.7" stroke="#ff0000" stroke-width="2.3" fill="none"/><path d="M1310.5 293.7v6.6M1313.6 300.3v6.6M1316.7 306.9v6.6M1325.9 278v6.6M1329 284.6v6.6M1332.1 291.2v6.6M1335.1 297.8v6.6M1344.4 268.9v6.6M1347.4 275.5v6.6M1350.5 282.1v6.6M1353.6 288.7v6.6M1362.8 259.8v6.6M1365.9 266.4v6.6M1369 273v6.6M1372.1 279.6v6.6M1378.2 268.4v6.6M1381.3 275v6.6M1384.4 281.6v6.6M1387.5 288.2v6.6M1390.6 294.8v6.6M1393.6 301.4v6.6M1405.9 254.8v6.6M1409 261.4v6.6M1412.1 268v6.6M1415.2 274.6v6.6M1430.6 210.2v6.6M1436.7 199.1v6.6M1439.8 205.7v6.6M1442.9 212.3v6.6M1446 218.9v6.6M1449.1 225.4v6.6M1452.1 232v6.6M1455.2 238.6v6.6M1458.3 245.2v6.6M1461.4 251.8v6.6M1464.5 258.4v6.6M1467.5 265v6.6M1470.6 271.6v6.6M1473.7 278.2v6.6M1498.3 160.7v6.6M1504.5 149.5v6.6M1510.6 138.4v6.6M1513.7 145v6.6M1516.8 151.6v6.6M1523 140.4v6.6M1535.3 93.8v6.6M1538.3 100.4v6.6M1541.4 107v6.6M1547.6 95.9v6.6M1550.7 102.5v6.6M1553.7 109v6.6M1559.9 97.9v6.6M1566.1 86.8v6.6M1569.1 93.4v6.6M1572.2 100v6.6M1575.3 106.5v6.6M1578.4 113.1v6.6M1581.5 119.7v6.6M1584.5 126.3v6.6M1587.6 132.9v6.6M1590.7 139.5v6.6M1596.8 128.4v6.6M1599.9 135v6.6M1603 141.5v6.6M1606.1 148.1v6.6M1609.2 154.7v6.6" stroke="#00e6e6" stroke-width="2.3" fill="none"/><path d="M1319.7 381.3V381.5M1322.8 381.3V378.7M1325.9 381.3V377.6M1338.2 381.3V378.7M1341.3 381.3V376.3M1344.4 381.3V375.6M1356.7 381.3V378.3M1359.8 381.3V376.2M1362.8 381.3V375.8M1375.2 381.3V379M1396.7 381.3V385.4M1399.8 381.3V382.7M1402.9 381.3V379M1405.9 381.3V377.6M1409 381.3V377.5M1418.3 381.3V378.9M1421.3 381.3V376.7M1424.4 381.3V373.8M1427.5 381.3V370.6M1430.6 381.3V370M1433.7 381.3V368.4M1476.8 381.3V392.5M1479.8 381.3V388.9M1482.9 381.3V384.5M1486 381.3V379.8M1489.1 381.3V375.1M1492.2 381.3V370.8M1495.2 381.3V366.8M1498.3 381.3V365.9M1501.4 381.3V364.4M1507.6 381.3V365M1529.1 381.3V374.9M1532.2 381.3V373.1M1563 381.3V384.3M1593.8 381.3V394.3M1596.8 381.3V393.4M1599.9 381.3V393M1603 381.3V393M1612.2 381.3V391.2M1615.3 381.3V387.6" stroke="#ff0000" stroke-width="2.25" fill="none"/><path d="M1310.5 381.3V381.5M1313.6 381.3V382.1M1316.7 381.3V383M1329 381.3V377.7M1332.1 381.3V378.5M1335.1 381.3V379.7M1347.4 381.3V376.2M1350.5 381.3V377.4M1353.6 381.3V379M1365.9 381.3V376.5M1369 381.3V377.9M1372.1 381.3V379.6M1378.2 381.3V379.4M1381.3 381.3V380.5M1384.4 381.3V382M1387.5 381.3V383.5M1390.6 381.3V385.1M1393.6 381.3V386.6M1412.1 381.3V378.4M1415.2 381.3V379.8M1436.7 381.3V368.9M1439.8 381.3V370.8M1442.9 381.3V373.3M1446 381.3V376.2M1449.1 381.3V379.2M1452.1 381.3V382.1M1455.2 381.3V384.8M1458.3 381.3V387.1M1461.4 381.3V389.2M1464.5 381.3V390.9M1467.5 381.3V392.4M1470.6 381.3V393.5M1473.7 381.3V394.3M1504.5 381.3V365.3M1510.6 381.3V366.6M1513.7 381.3V369.4M1516.8 381.3V372.7M1519.9 381.3V373.8M1523 381.3V375.8M1526 381.3V376M1535.3 381.3V373.5M1538.3 381.3V375.2M1541.4 381.3V377.8M1544.5 381.3V378.2M1547.6 381.3V379.7M1550.7 381.3V381.9M1553.7 381.3V384.4M1556.8 381.3V384.4M1559.9 381.3V385.3M1566.1 381.3V384.6M1569.1 381.3V385.8M1572.2 381.3V387.3M1575.3 381.3V389M1578.4 381.3V390.7M1581.5 381.3V392.4M1584.5 381.3V393.8M1587.6 381.3V395M1590.7 381.3V396M1606.1 381.3V393.2M1609.2 381.3V393.5" stroke="#00e6e6" stroke-width="2.25" fill="none"/><polyline points="1310.5,393.3 1313.6,393.5 1316.7,393.9 1319.7,394 1322.8,393.3 1325.9,392.4 1329,391.5 1332.1,390.8 1335.1,390.4 1338.2,389.8 1341.3,388.5 1344.4,387.1 1347.4,385.8 1350.5,384.9 1353.6,384.3 1356.7,383.6 1359.8,382.3 1362.8,380.9 1365.9,379.7 1369,378.9 1372.1,378.4 1375.2,377.9 1378.2,377.4 1381.3,377.2 1384.4,377.4 1387.5,378 1390.6,378.9 1393.6,380.3 1396.7,381.3 1399.8,381.6 1402.9,381.1 1405.9,380.2 1409,379.2 1412.1,378.5 1415.2,378.1 1418.3,377.5 1421.3,376.4 1424.4,374.5 1427.5,371.9 1430.6,369.1 1433.7,365.9 1436.7,362.8 1439.8,360.1 1442.9,358.2 1446,356.9 1449.1,356.4 1452.1,356.6 1455.2,357.5 1458.3,358.9 1461.4,360.9 1464.5,363.3 1467.5,366.1 1470.6,369.2 1473.7,372.4 1476.8,375.2 1479.8,377.1 1482.9,378 1486,377.6 1489.1,376.1 1492.2,373.4 1495.2,369.8 1498.3,366 1501.4,361.8 1504.5,357.8 1507.6,353.7 1510.6,350 1513.7,347.1 1516.8,344.9 1519.9,343 1523,341.7 1526,340.4 1529.1,338.8 1532.2,336.7 1535.3,334.8 1538.3,333.3 1541.4,332.4 1544.5,331.6 1547.6,331.2 1550.7,331.4 1553.7,332.2 1556.8,332.9 1559.9,334 1563,334.7 1566.1,335.6 1569.1,336.7 1572.2,338.2 1575.3,340.1 1578.4,342.5 1581.5,345.3 1584.5,348.4 1587.6,351.8 1590.7,355.5 1593.8,358.8 1596.8,361.8 1599.9,364.7 1603,367.7 1606.1,370.7 1609.2,373.7 1612.2,376.2 1615.3,377.8" fill="none" stroke="#00aa00" stroke-width="1.3"/><polyline points="1310.5,393.5 1313.6,394.3 1316.7,395.6 1319.7,394.2 1322.8,390.7 1325.9,388.7 1329,387.9 1332.1,388 1335.1,388.9 1338.2,387.2 1341.3,383.5 1344.4,381.5 1347.4,380.7 1350.5,381 1353.6,382 1356.7,380.6 1359.8,377.2 1362.8,375.4 1365.9,374.9 1369,375.4 1372.1,376.8 1375.2,375.6 1378.2,375.6 1381.3,376.5 1384.4,378.1 1387.5,380.2 1390.6,382.8 1393.6,385.6 1396.7,385.5 1399.8,383 1402.9,378.9 1405.9,376.5 1409,375.5 1412.1,375.6 1415.2,376.6 1418.3,375.2 1421.3,371.9 1424.4,367.1 1427.5,361.3 1430.6,357.8 1433.7,353 1436.7,350.4 1439.8,349.6 1442.9,350.2 1446,351.9 1449.1,354.3 1452.1,357.4 1455.2,361 1458.3,364.8 1461.4,368.9 1464.5,373 1467.5,377.2 1470.6,381.4 1473.7,385.5 1476.8,386.4 1479.8,384.8 1482.9,381.2 1486,376.1 1489.1,369.9 1492.2,362.9 1495.2,355.4 1498.3,350.6 1501.4,344.9 1504.5,341.7 1507.6,337.4 1510.6,335.4 1513.7,335.2 1516.8,336.4 1519.9,335.5 1523,336.3 1526,335.1 1529.1,332.4 1532.2,328.5 1535.3,327 1538.3,327.3 1541.4,328.9 1544.5,328.5 1547.6,329.7 1550.7,332 1553.7,335.2 1556.8,336 1559.9,338 1563,337.8 1566.1,338.9 1569.1,341.2 1572.2,344.2 1575.3,347.9 1578.4,352 1581.5,356.4 1584.5,360.9 1587.6,365.6 1590.7,370.3 1593.8,371.8 1596.8,373.9 1599.9,376.5 1603,379.4 1606.1,382.6 1609.2,385.9 1612.2,386.2 1615.3,384.1" fill="none" stroke="#cdcdcd" stroke-width="1.3"/></g><g><text y="432.7" fill="#f2f2f2" font-family="'Liberation Sans','Noto Sans CJK SC',sans-serif" font-size="16px"><tspan x="9.6">【</tspan><tspan x="27.7">毒胆</tspan><tspan x="70">】</tspan><tspan x="85">频率</tspan><tspan x="126">线</tspan><tspan x="150.5">当前遗漏</tspan><tspan x="240.6">周期</tspan></text><text y="433.2" fill="#ececec" font-family="'Liberation Serif',serif" font-size="14.4px"><tspan x="60.8">5</tspan><tspan x="117.3" font-size="12px">K</tspan><tspan x="144.6">(</tspan><tspan x="217.2">:</tspan><tspan x="224.6">0</tspan><tspan x="274.6">:</tspan><tspan x="282">1</tspan></text><path d="M8.8 444.5V773.6H313.5" fill="none" stroke="#f00000" stroke-width="1.1"/><polyline points="10.9,588.8 13.9,590.5 16.9,598.3 20,605.1 23,610.7 26,613.1 29.1,608.9 32.1,597.2 35.2,589.5 38.2,584.5 41.2,582.2 44.3,575.2 47.3,563.3 50.3,547.1 53.4,527.8 56.4,506.4 59.5,492.7 62.5,481.8 65.5,473.2 68.6,462 71.6,453.2 74.6,447.5 77.7,445.1 80.7,446.3 83.7,451.9 86.8,456.6 89.8,459.3 92.9,460.2 95.9,461.6 98.9,463.6 102,469 105,470.9 108,471.2 111.1,471.3 114.1,473.2 117.2,479.6 120.2,484.5 123.2,489.4 126.3,491.3 129.3,500.1 132.3,503.5 135.4,498.2 138.4,484.3 141.5,474.2 144.5,466.6 147.5,461 150.6,457.2 153.6,455 156.6,454.7 159.7,456.2 162.7,456.5 165.7,456.4 168.8,456 171.8,456.3 174.9,457.3 177.9,459 180.9,463.2 184,464.5 187,464 190,463 193.1,461.8 196.1,465.4 199.2,475.4 202.2,484.2 205.2,492.3 208.3,495.7 211.3,498.5 214.3,500.7 217.4,502 220.4,502.5 223.5,500.8 226.5,496.1 229.5,492.9 232.6,490.9 235.6,490.1 238.6,490.5 241.7,490.8 244.7,490.5 247.7,489.6 250.8,488.1 253.8,486.2 256.9,486.1 259.9,485.5 262.9,486.4 266,486.8 269,490 272,491.7 275.1,491.9 278.1,490.9 281.2,491.2 284.2,494 287.2,502.5 290.3,510.2 293.3,516.9 296.3,521.9 299.4,524.9 302.4,526.7 305.5,527.7 308.5,527.8 311.5,526.6" fill="none" stroke="#5a4aa8" stroke-width="1.3"/><polyline points="10.9,636.8 13.9,637.5 16.9,640 20,642.4 23,644.9 26,645.6 29.1,644.6 32.1,641.9 35.2,639.1 38.2,636.4 41.2,635.4 44.3,632.7 47.3,628.2 50.3,622 53.4,614.1 56.4,604.5 59.5,594.8 62.5,586.9 65.5,580.7 68.6,572.8 71.6,566.6 74.6,560.4 77.7,554.2 80.7,548.1 83.7,541.9 86.8,537.4 89.8,534.7 92.9,533.7 95.9,532.7 98.9,531.7 102,528.9 105,527.9 108,526.9 111.1,527.7 114.1,530.1 117.2,534.3 120.2,538.5 123.2,540.9 126.3,541.7 129.3,544.1 132.3,544.8 135.4,543.8 138.4,541.1 141.5,538.4 144.5,535.7 147.5,532.9 150.6,530.2 153.6,527.5 156.6,524.7 159.7,522 162.7,521 165.7,518.3 168.8,517.3 171.8,516.3 174.9,515.3 177.9,514.3 180.9,511.5 184,510.5 187,511.2 190,512 193.1,514.4 196.1,516.9 199.2,521.1 202.2,523.5 205.2,526 208.3,526.7 211.3,527.4 214.3,528.1 217.4,528.9 220.4,529.6 223.5,528.6 226.5,527.6 229.5,526.6 232.6,525.6 235.6,524.6 238.6,523.6 241.7,524.3 244.7,525 247.7,525.8 250.8,526.5 253.8,527.2 256.9,527.9 259.9,526.9 262.9,527.7 266,528.4 269,530.8 272,533.3 275.1,535.8 278.1,538.2 281.2,538.9 284.2,541.4 287.2,543.8 290.3,546.3 293.3,548.8 296.3,551.2 299.4,553.7 302.4,554.4 305.5,555.1 308.5,555.8 311.5,554.8" fill="none" stroke="#5a4aa8" stroke-width="1.3"/><polyline points="10.9,684.8 13.9,684.6 16.9,681.7 20,679.7 23,679.1 26,678.1 29.1,680.3 32.1,686.5 35.2,688.8 38.2,688.3 41.2,688.6 44.3,690.1 47.3,693.2 50.3,695.5 53.4,695.5 56.4,695.5 59.5,695.5 62.5,692 65.5,688.2 68.6,683.6 71.6,680.1 74.6,673.3 77.7,663.4 80.7,649.8 83.7,631.8 86.8,618.3 89.8,610 92.9,607.2 95.9,603.8 98.9,599.7 102,588.9 105,585 108,582.7 111.1,584 114.1,587 117.2,589 120.2,592.5 123.2,592.5 126.3,592 129.3,588.1 132.3,586.1 135.4,589.4 138.4,597.9 141.5,602.6 144.5,604.7 147.5,604.8 150.6,603.2 153.6,599.9 156.6,594.8 159.7,587.8 162.7,585.5 165.7,580.1 168.8,578.5 171.8,576.2 174.9,573.3 177.9,569.5 180.9,559.8 184,556.5 187,558.5 190,560.9 193.1,567.1 196.1,568.3 199.2,566.7 202.2,562.8 205.2,559.6 208.3,557.7 211.3,556.3 214.3,555.6 217.4,555.8 220.4,556.7 223.5,556.4 226.5,559.1 229.5,560.3 232.6,560.2 235.6,559.1 238.6,556.7 241.7,557.8 244.7,559.6 247.7,561.9 250.8,564.9 253.8,568.2 256.9,569.8 259.9,568.3 262.9,568.9 266,570 269,571.7 272,574.9 275.1,579.6 278.1,585.5 281.2,586.7 284.2,588.8 287.2,585.2 290.3,582.4 293.3,580.6 296.3,580.5 299.4,582.4 302.4,582.1 305.5,582.5 308.5,583.8 311.5,583.1" fill="none" stroke="#5a4aa8" stroke-width="1.3"/><path d="M9.9 618.6v25.2M25.1 630.9v25.2M28.2 605.7v25.2M31.2 580.5v25.2M43.4 583.4v25.2M46.4 558.2v25.2M49.4 533v25.2M52.5 507.8v25.2M55.5 482.6v25.2M67.7 485.5v25.2M101.1 554v25.2M107.1 538.2v25.2M122.3 550.4v25.2M125.4 525.2v25.2M131.4 509.4v25.2M134.5 484.2v25.2M137.5 459v25.2M164.8 508.7v25.2M180 521v25.2M195.2 533.3v25.2M201.3 517.5v25.2M207.4 501.6v25.2M222.5 513.9v25.2M225.6 488.7v25.2M255.9 547.8v25.2M259 522.6v25.2M280.2 553.6v25.2M286.3 537.8v25.2M301.5 550v25.2M310.6 543.6v25.2" stroke="#ff0000" stroke-width="2.3" fill="none"/><path d="M13 618.6v9.4M16 628v9.4M19.1 637.4v9.4M22.1 646.7v9.4M34.2 580.5v9.4M37.3 589.9v9.4M40.3 599.2v9.4M58.5 482.6v9.4M61.6 492v9.4M64.6 501.3v9.4M70.7 485.5v9.4M73.7 494.9v9.4M76.8 504.2v9.4M79.8 513.6v9.4M82.8 523v9.4M85.9 532.3v9.4M88.9 541.7v9.4M91.9 551.1v9.4M95 560.5v9.4M98 569.8v9.4M104.1 554v9.4M110.2 538.2v9.4M113.2 547.5v9.4M116.2 556.9v9.4M119.3 566.3v9.4M128.4 525.2v9.4M140.5 459v9.4M143.6 468.4v9.4M146.6 477.7v9.4M149.7 487.1v9.4M152.7 496.5v9.4M155.7 505.8v9.4M158.8 515.2v9.4M161.8 524.6v9.4M167.9 508.7v9.4M170.9 518.1v9.4M173.9 527.5v9.4M177 536.8v9.4M183.1 521v9.4M186.1 530.4v9.4M189.1 539.7v9.4M192.2 549.1v9.4M198.2 533.3v9.4M204.3 517.5v9.4M210.4 501.6v9.4M213.4 511v9.4M216.5 520.4v9.4M219.5 529.7v9.4M228.6 488.7v9.4M231.7 498.1v9.4M234.7 507.4v9.4M237.7 516.8v9.4M240.8 526.2v9.4M243.8 535.5v9.4M246.8 544.9v9.4M249.9 554.3v9.4M252.9 563.6v9.4M262 522.6v9.4M265.1 532v9.4M268.1 541.3v9.4M271.1 550.7v9.4M274.2 560.1v9.4M277.2 569.4v9.4M283.3 553.6v9.4M289.4 537.8v9.4M292.4 547.1v9.4M295.4 556.5v9.4M298.5 565.9v9.4M304.5 550v9.4M307.6 559.4v9.4" stroke="#00e6e6" stroke-width="2.3" fill="none"/><path d="M9.9 751.4V750.6M13 751.4V749.2M25.1 751.4V750.3M28.2 751.4V747.4M31.2 751.4V743.5M34.2 751.4V742.3M43.4 751.4V743.9M46.4 751.4V741.7M49.4 751.4V738.8M52.5 751.4V735.5M55.5 751.4V732.3M101.1 751.4V765.7M104.1 751.4V764.9M107.1 751.4V761.7M110.2 751.4V760.2M113.2 751.4V759.7M122.3 751.4V758.4M125.4 751.4V754.5M128.4 751.4V752.8M131.4 751.4V749.6M134.5 751.4V745.5M137.5 751.4V741.1M140.5 751.4V739.8M164.8 751.4V756.6M180 751.4V758.5M183.1 751.4V758M195.2 751.4V757.6M198.2 751.4V756.8M201.3 751.4V753.9M204.3 751.4V752.7M207.4 751.4V749.6M210.4 751.4V748.6M222.5 751.4V750.6M225.6 751.4V747.7M228.6 751.4V746.9M255.9 751.4V758.6M259 751.4V754.9M262 751.4V753.2M265.1 751.4V752.8M280.2 751.4V754.9M283.3 751.4V754.4M286.3 751.4V751.6M289.4 751.4V750.5M301.5 751.4V751.2M304.5 751.4V750.9M310.6 751.4V749.5" stroke="#ff0000" stroke-width="2.25" fill="none"/><path d="M16 751.4V749.2M19.1 751.4V750.2M22.1 751.4V751.7M37.3 751.4V742.9M40.3 751.4V744.6M58.5 751.4V732.3M61.6 751.4V734.4M64.6 751.4V737.7M67.7 751.4V738.7M70.7 751.4V741.1M73.7 751.4V744.4M76.8 751.4V748M79.8 751.4V751.7M82.8 751.4V755.2M85.9 751.4V758.5M88.9 751.4V761.3M91.9 751.4V763.8M95 751.4V765.9M98 751.4V767.5M116.2 751.4V759.9M119.3 751.4V760.6M143.6 751.4V740.6M146.6 751.4V742.6M149.7 751.4V745.4M152.7 751.4V748.4M155.7 751.4V751.5M158.8 751.4V754.5M161.8 751.4V757.2M167.9 751.4V756.9M170.9 751.4V757.8M173.9 751.4V759M177 751.4V760.3M186.1 751.4V758.2M189.1 751.4V758.8M192.2 751.4V759.7M213.4 751.4V749M216.5 751.4V750.1M219.5 751.4V751.8M231.7 751.4V747.5M234.7 751.4V748.9M237.7 751.4V750.8M240.8 751.4V752.9M243.8 751.4V755M246.8 751.4V756.9M249.9 751.4V758.7M252.9 751.4V760.3M268.1 751.4V753.2M271.1 751.4V754.2M274.2 751.4V755.4M277.2 751.4V756.7M292.4 751.4V750.7M295.4 751.4V751.5M298.5 751.4V752.7M307.6 751.4V751.5" stroke="#00e6e6" stroke-width="2.25" fill="none"/><polyline points="9.9,753.8 13,753.2 16,752.7 19.1,752.4 22.1,752.5 25.1,752.2 28.2,751.2 31.2,749.2 34.2,747 37.3,744.8 40.3,743.2 43.4,741.3 46.4,738.9 49.4,735.7 52.5,731.8 55.5,727 58.5,722.2 61.6,718 64.6,714.6 67.7,711.4 70.7,708.8 73.7,707 76.8,706.2 79.8,706.3 82.8,707.2 85.9,709 88.9,711.5 91.9,714.6 95,718.2 98,722.3 101.1,725.8 104.1,729.2 107.1,731.8 110.2,734 113.2,736.1 116.2,738.2 119.3,740.5 122.3,742.3 125.4,743.1 128.4,743.4 131.4,743 134.5,741.5 137.5,738.9 140.5,736 143.6,733.3 146.6,731.2 149.7,729.7 152.7,728.9 155.7,729 158.8,729.7 161.8,731.2 164.8,732.5 167.9,733.8 170.9,735.5 173.9,737.3 177,739.6 180,741.4 183.1,743 186.1,744.7 189.1,746.6 192.2,748.6 195.2,750.2 198.2,751.6 201.3,752.2 204.3,752.5 207.4,752.1 210.4,751.4 213.4,750.8 216.5,750.5 219.5,750.6 222.5,750.4 225.6,749.4 228.6,748.3 231.7,747.3 234.7,746.7 237.7,746.5 240.8,746.9 243.8,747.8 246.8,749.2 249.9,751 252.9,753.3 255.9,755.1 259,755.9 262,756.4 265.1,756.7 268.1,757.2 271.1,757.9 274.2,758.9 277.2,760.2 280.2,761.1 283.3,761.9 286.3,761.9 289.4,761.7 292.4,761.5 295.4,761.5 298.5,761.9 301.5,761.8 304.5,761.7 307.6,761.7 310.6,761.3" fill="none" stroke="#00aa00" stroke-width="1.3"/><polyline points="9.9,753 13,751 16,750.6 19.1,751.2 22.1,752.7 25.1,751.2 28.2,747.2 31.2,741.3 34.2,737.9 37.3,736.4 40.3,736.4 43.4,733.8 46.4,729.2 49.4,723.1 52.5,715.9 55.5,707.9 58.5,703.1 61.6,701 64.6,700.9 67.7,698.6 70.7,698.5 73.7,700 76.8,702.8 79.8,706.6 82.8,711.1 85.9,716.1 88.9,721.5 91.9,727 95,732.7 98,738.4 101.1,740.2 104.1,742.8 107.1,742.2 110.2,742.8 113.2,744.4 116.2,746.8 119.3,749.7 122.3,749.3 125.4,746.2 128.4,744.9 131.4,741.2 134.5,735.6 137.5,728.6 140.5,724.5 143.6,722.6 146.6,722.4 149.7,723.6 152.7,726 155.7,729.1 158.8,732.8 161.8,737 164.8,737.7 167.9,739.4 170.9,741.9 173.9,744.9 177,748.5 180,748.5 183.1,749.6 186.1,751.5 189.1,754 192.2,757 195.2,756.5 198.2,757 201.3,754.7 204.3,753.8 207.4,750.3 210.4,748.6 213.4,748.4 216.5,749.2 219.5,751 222.5,749.5 225.6,745.7 228.6,743.8 231.7,743.4 234.7,744.2 237.7,745.9 240.8,748.4 243.8,751.4 246.8,754.8 249.9,758.4 252.9,762.2 255.9,762.3 259,759.4 262,758.2 265.1,758.1 268.1,759 271.1,760.7 274.2,762.9 277.2,765.5 280.2,764.7 283.3,764.9 286.3,762.1 289.4,760.8 292.4,760.8 295.4,761.7 298.5,763.2 301.5,761.6 304.5,761.2 307.6,761.8 310.6,759.4" fill="none" stroke="#cdcdcd" stroke-width="1.3"/></g><g><text y="432.7" fill="#f2f2f2" font-family="'Liberation Sans','Noto Sans CJK SC',sans-serif" font-size="16px"><tspan x="334.6">【</tspan><tspan x="352.7">毒胆</tspan><tspan x="395">】</tspan><tspan x="410">频率</tspan><tspan x="451">线</tspan><tspan x="475.5">当前遗漏</tspan><tspan x="565.6">周期</tspan></text><text y="433.2" fill="#ececec" font-family="'Liberation Serif',serif" font-size="14.4px"><tspan x="385.8">6</tspan><tspan x="442.3" font-size="12px">K</tspan><tspan x="469.6">(</tspan><tspan x="542.2">:</tspan><tspan x="549.6">5</tspan><tspan x="599.6">:</tspan><tspan x="607">1</tspan></text><path d="M333.9 444.5V773.6H638.5" fill="none" stroke="#f00000" stroke-width="1.1"/><polyline points="335.9,444 338.9,450.4 341.9,459.6 345,466.5 348,473.9 351,480.5 354.1,485 357.1,485.8 360.2,486 363.2,478.7 366.2,473.4 369.3,471.1 372.3,473.2 375.3,474.8 378.4,476 381.4,476.8 384.5,477 387.5,476.8 390.5,476.5 393.6,477 396.6,477.4 399.6,477 402.7,477.6 405.7,477.7 408.7,477.2 411.8,477.2 414.8,478.1 417.9,477.9 420.9,479.5 423.9,486.3 427,491.3 430,494.1 433,495.1 436.1,494.5 439.1,496.4 442.2,497.1 445.2,497.8 448.2,498.1 451.3,500.7 454.3,502.1 457.3,507.8 460.4,513.5 463.4,518 466.5,521 469.5,522.6 472.5,530.5 475.6,533.8 478.6,536.6 481.6,531.9 484.7,528.7 487.7,526.6 490.7,525.5 493.8,525.4 496.8,526.3 499.9,526.2 502.9,525.6 505.9,526.6 509,527 512,526.7 515,525.8 518.1,524.5 521.1,522.5 524.2,522.5 527.2,522.1 530.2,521.2 533.3,521.7 536.3,523.7 539.3,525.1 542.4,532.3 545.4,535.2 548.5,537.6 551.5,539.5 554.5,540.8 557.6,538.2 560.6,530.3 563.6,527.1 566.7,524.8 569.7,523.3 572.7,522.7 575.8,522.8 578.8,523.8 581.9,525.6 584.9,522 587.9,521.4 591,524.6 594,525.3 597,523.1 600.1,522.2 603.1,517.7 606.2,515.5 609.2,514.4 612.2,514.4 615.3,515.6 618.3,515.3 621.3,517.2 624.4,518.4 627.4,518.9 630.5,518.6 633.5,517.7 636.5,516.2" fill="none" stroke="#5a4aa8" stroke-width="1.3"/><polyline points="335.9,566.8 338.9,557.8 341.9,550.4 345,543 348,537.2 351,533.1 354.1,530.5 357.1,528 360.2,523.8 363.2,519.6 366.2,517.1 369.3,516.2 372.3,516.8 375.3,517.5 378.4,518.2 381.4,518.9 384.5,519.5 387.5,520.2 390.5,519.3 393.6,518.4 396.6,515.8 399.6,514.9 402.7,513.9 405.7,514.6 408.7,515.3 411.8,514.4 414.8,513.4 417.9,514.1 420.9,516.4 423.9,520.3 427,524.2 430,528.1 433,532 436.1,535.9 439.1,538.2 442.2,540.5 445.2,541.2 448.2,541.8 451.3,544.1 454.3,546.4 457.3,550.3 460.4,552.6 463.4,554.9 466.5,557.2 469.5,559.5 472.5,561.8 475.6,562.4 478.6,563.1 481.6,562.2 484.7,561.2 487.7,560.3 490.7,559.4 493.8,558.4 496.8,557.5 499.9,558.2 502.9,557.2 505.9,557.9 509,558.6 512,559.3 515,560 518.1,560.6 521.1,562.9 524.2,563.6 527.2,564.3 530.2,565 533.3,565.6 536.3,566.3 539.3,567 542.4,569.3 545.4,570 548.5,570.6 551.5,571.3 554.5,572 557.6,571 560.6,568.5 563.6,567.6 566.7,566.6 569.7,565.7 572.7,564.8 575.8,563.8 578.8,562.9 581.9,560.3 584.9,557.8 587.9,555.2 591,552.7 594,551.8 597,550.8 600.1,549.9 603.1,547.3 606.2,546.4 609.2,545.5 612.2,544.5 615.3,543.6 618.3,544.3 621.3,545 624.4,545.6 627.4,546.3 630.5,547 633.5,547.7 636.5,548.3" fill="none" stroke="#5a4aa8" stroke-width="1.3"/><polyline points="335.9,691.1 338.9,665.1 341.9,641.2 345,619.4 348,600.5 351,585.6 354.1,576 357.1,570.1 360.2,561.6 363.2,560.6 366.2,560.8 369.3,561.2 372.3,560.5 375.3,560.2 378.4,560.3 381.4,561 384.5,562.1 387.5,563.6 390.5,562.1 393.6,559.7 396.6,554.2 399.6,552.7 402.7,550.3 405.7,551.5 408.7,553.4 411.8,551.5 414.8,548.7 417.9,550.3 420.9,553.3 423.9,554.2 427,557.1 430,562 433,568.9 436.1,577.3 439.1,579.9 442.2,583.8 445.2,584.5 448.2,585.6 451.3,587.5 454.3,590.8 457.3,592.8 460.4,591.7 463.4,591.8 466.5,593.3 469.5,596.4 472.5,593 475.6,591.1 478.6,589.6 481.6,592.4 484.7,593.8 487.7,594.1 490.7,593.3 493.8,591.5 496.8,588.7 499.9,590.2 502.9,588.9 505.9,589.2 509,590.2 512,591.9 515,594.1 518.1,596.8 521.1,603.4 524.2,604.7 527.2,606.5 530.2,608.7 533.3,609.6 536.3,609 539.3,608.8 542.4,606.2 545.4,604.7 548.5,603.6 551.5,603.1 554.5,603.2 557.6,603.9 560.6,606.7 563.6,608 566.7,608.5 569.7,608.1 572.7,606.9 575.8,604.9 578.8,602 581.9,595 584.9,593.6 587.9,589.1 591,580.8 594,578.2 597,578.6 600.1,577.6 603.1,576.9 606.2,577.3 609.2,576.6 612.2,574.7 615.3,571.6 618.3,573.2 621.3,572.7 624.4,572.9 627.4,573.8 630.5,575.4 633.5,577.7 636.5,580.5" fill="none" stroke="#5a4aa8" stroke-width="1.3"/><path d="M338 531.1v23.5M344.1 516.4v23.5M356.2 519.1v23.5M359.2 495.6v23.5M362.3 472.1v23.5M389.6 518.5v23.5M395.7 503.7v23.5M410.9 515.1v23.5M438.2 561.6v23.5M444.3 546.8v23.5M459.5 558.2v23.5M471.6 560.9v23.5M474.7 537.4v23.5M480.7 522.7v23.5M502 551.6v23.5M523.2 580.5v23.5M532.4 574.5v23.5M535.4 551v23.5M544.5 544.9v23.5M556.7 547.7v23.5M559.7 524.1v23.5M580.9 553.1v23.5M584 529.6v23.5M596.1 532.3v23.5M602.2 517.5v23.5M620.4 537.7v23.5" stroke="#ff0000" stroke-width="2.3" fill="none"/><path d="M334.9 545.9v8.7M341 531.1v8.7M347.1 516.4v8.7M350.1 525.1v8.7M353.2 533.8v8.7M365.3 472.1v8.7M368.4 480.8v8.7M371.4 489.5v8.7M374.4 498.3v8.7M377.5 507v8.7M380.5 515.8v8.7M383.5 524.5v8.7M386.6 533.2v8.7M392.7 518.5v8.7M398.7 503.7v8.7M401.8 512.4v8.7M404.8 521.2v8.7M407.8 529.9v8.7M413.9 515.1v8.7M416.9 523.9v8.7M420 532.6v8.7M423 541.4v8.7M426.1 550.1v8.7M429.1 558.8v8.7M432.1 567.6v8.7M435.2 576.3v8.7M441.2 561.6v8.7M447.3 546.8v8.7M450.4 555.5v8.7M453.4 564.3v8.7M456.4 573v8.7M462.5 558.2v8.7M465.5 567v8.7M468.6 575.7v8.7M477.7 537.4v8.7M483.8 522.7v8.7M486.8 531.4v8.7M489.8 540.1v8.7M492.9 548.9v8.7M495.9 557.6v8.7M498.9 566.4v8.7M505 551.6v8.7M508.1 560.3v8.7M511.1 569.1v8.7M514.1 577.8v8.7M517.2 586.5v8.7M520.2 595.3v8.7M526.3 580.5v8.7M529.3 589.3v8.7M538.4 551v8.7M541.5 559.7v8.7M547.5 544.9v8.7M550.6 553.7v8.7M553.6 562.4v8.7M562.7 524.1v8.7M565.8 532.9v8.7M568.8 541.6v8.7M571.8 550.4v8.7M574.9 559.1v8.7M577.9 567.8v8.7M587 529.6v8.7M590.1 538.3v8.7M593.1 547v8.7M599.2 532.3v8.7M605.2 517.5v8.7M608.3 526.2v8.7M611.3 535v8.7M614.4 543.7v8.7M617.4 552.5v8.7M623.5 537.7v8.7M626.5 546.4v8.7M629.5 555.2v8.7M632.6 563.9v8.7M635.6 572.6v8.7" stroke="#00e6e6" stroke-width="2.3" fill="none"/><path d="M338 752.5V761M344.1 752.5V760.1M347.1 752.5V759.9M356.2 752.5V760.2M359.2 752.5V757.3M362.3 752.5V753.5M365.3 752.5V752.2M389.6 752.5V762.4M392.7 752.5V762.1M395.7 752.5V759.6M398.7 752.5V758.7M410.9 752.5V758.5M413.9 752.5V758M438.2 752.5V761.6M441.2 752.5V760.5M444.3 752.5V757.3M447.3 752.5V755.7M450.4 752.5V755.2M459.5 752.5V754.2M462.5 752.5V753.6M471.6 752.5V752.7M474.7 752.5V749.4M477.7 752.5V748.1M480.7 752.5V745.5M483.8 752.5V744.8M502 752.5V752.5M523.2 752.5V757.3M526.3 752.5V756.7M532.4 752.5V754.5M535.4 752.5V750.8M538.4 752.5V749.2M541.5 752.5V749.1M544.5 752.5V747M547.5 752.5V746.8M556.7 752.5V748.1M559.7 752.5V745.6M562.7 752.5V745.2M580.9 752.5V753.6M584 752.5V751.1M587 752.5V750.4M596.1 752.5V750.8M602.2 752.5V749.1M605.2 752.5V748.9M620.4 752.5V754.3" stroke="#ff0000" stroke-width="2.25" fill="none"/><path d="M334.9 752.5V761.1M341 752.5V761.7M350.1 752.5V760.5M353.2 752.5V761.7M368.4 752.5V752.4M371.4 752.5V753.7M374.4 752.5V755.6M377.5 752.5V757.7M380.5 752.5V759.8M383.5 752.5V761.8M386.6 752.5V763.6M401.8 752.5V758.7M404.8 752.5V759.3M407.8 752.5V760.2M416.9 752.5V758.3M420 752.5V759M423 752.5V760M426.1 752.5V761M429.1 752.5V762M432.1 752.5V762.9M435.2 752.5V763.7M453.4 752.5V755.5M456.4 752.5V756.1M465.5 752.5V753.8M468.6 752.5V754.5M486.8 752.5V745.5M489.8 752.5V747M492.9 752.5V749M495.9 752.5V751.1M498.9 752.5V753.3M505 752.5V752.8M508.1 752.5V753.7M511.1 752.5V754.9M514.1 752.5V756.2M517.2 752.5V757.6M520.2 752.5V758.9M529.3 752.5V756.8M550.6 752.5V747.6M553.6 752.5V749M565.8 752.5V746.1M568.8 752.5V747.8M571.8 752.5V749.8M574.9 752.5V752.1M577.9 752.5V754.3M590.1 752.5V750.8M593.1 752.5V752M599.2 752.5V750.9M608.3 752.5V749.8M611.3 752.5V751.4M614.4 752.5V753.2M617.4 752.5V755.2M623.5 752.5V754.5M626.5 752.5V755.3M629.5 752.5V756.5M632.6 752.5V757.8M635.6 752.5V759.1" stroke="#00e6e6" stroke-width="2.25" fill="none"/><polyline points="334.9,698.5 338,700.6 341,702.9 344.1,704.8 347.1,706.7 350.1,708.7 353.2,711 356.2,712.9 359.2,714.1 362.3,714.3 365.3,714.2 368.4,714.2 371.4,714.5 374.4,715.3 377.5,716.6 380.5,718.4 383.5,720.7 386.6,723.5 389.6,726 392.7,728.4 395.7,730.2 398.7,731.7 401.8,733.3 404.8,735 407.8,736.9 410.9,738.4 413.9,739.8 416.9,741.2 420,742.9 423,744.7 426.1,746.9 429.1,749.2 432.1,751.9 435.2,754.7 438.2,756.9 441.2,758.9 444.3,760.1 447.3,760.9 450.4,761.6 453.4,762.3 456.4,763.2 459.5,763.7 462.5,763.9 465.5,764.3 468.6,764.8 471.6,764.8 474.7,764 477.7,762.9 480.7,761.2 483.8,759.3 486.8,757.5 489.8,756.1 492.9,755.3 495.9,754.9 498.9,755.1 502,755.1 505,755.2 508.1,755.5 511.1,756.1 514.1,757 517.2,758.3 520.2,759.9 523.2,761.1 526.3,762.2 529.3,763.2 532.4,763.7 535.4,763.3 538.4,762.5 541.5,761.6 544.5,760.3 547.5,758.8 550.6,757.6 553.6,756.7 556.7,755.6 559.7,753.9 562.7,752.1 565.8,750.5 568.8,749.3 571.8,748.6 574.9,748.5 577.9,749 580.9,749.2 584,748.9 587,748.3 590.1,747.9 593.1,747.8 596.1,747.4 599.2,747 602.2,746.1 605.2,745.2 608.3,744.5 611.3,744.3 614.4,744.5 617.4,745.1 620.4,745.6 623.5,746.1 626.5,746.8 629.5,747.8 632.6,749.1 635.6,750.8" fill="none" stroke="#00aa00" stroke-width="1.3"/><polyline points="334.9,707.1 338,709.1 341,712.1 344.1,712.4 347.1,714 350.1,716.7 353.2,720.1 356.2,720.6 359.2,718.8 362.3,715.3 365.3,713.9 368.4,714.2 371.4,715.8 374.4,718.4 377.5,721.8 380.5,725.7 383.5,730.1 386.6,734.7 389.6,735.9 392.7,738.1 395.7,737.3 398.7,737.9 401.8,739.5 404.8,741.8 407.8,744.6 410.9,744.4 413.9,745.3 416.9,747 420,749.4 423,752.2 426.1,755.4 429.1,758.8 432.1,762.3 435.2,765.9 438.2,766 441.2,766.9 444.3,764.9 447.3,764.1 450.4,764.3 453.4,765.3 456.4,766.9 459.5,765.4 462.5,765 465.5,765.5 468.6,766.7 471.6,765 474.7,760.9 477.7,758.6 480.7,754.1 483.8,751.6 486.8,750.5 489.8,750.7 492.9,751.8 495.9,753.6 498.9,755.9 502,755.2 505,755.5 508.1,756.7 511.1,758.5 514.1,760.8 517.2,763.4 520.2,766.3 523.2,765.9 526.3,766.4 529.3,767.5 532.4,765.7 535.4,761.6 538.4,759.2 541.5,758.2 544.5,754.8 547.5,753.1 550.6,752.6 553.6,753.3 556.7,751.2 559.7,747 562.7,744.8 565.8,744.1 568.8,744.5 571.8,745.9 574.9,748.1 577.9,750.7 580.9,750.3 584,747.4 587,746.2 590.1,746.2 593.1,747.3 596.1,745.6 599.2,745.4 602.2,742.7 605.2,741.6 608.3,741.9 611.3,743.2 614.4,745.2 617.4,747.8 620.4,747.4 623.5,748.1 626.5,749.6 629.5,751.7 632.6,754.4 635.6,757.4" fill="none" stroke="#cdcdcd" stroke-width="1.3"/></g><g><text y="432.7" fill="#f2f2f2" font-family="'Liberation Sans','Noto Sans CJK SC',sans-serif" font-size="16px"><tspan x="659.6">【</tspan><tspan x="677.7">毒胆</tspan><tspan x="720">】</tspan><tspan x="735">频率</tspan><tspan x="776">线</tspan><tspan x="800.5">当前遗漏</tspan><tspan x="890.6">周期</tspan></text><text y="433.2" fill="#ececec" font-family="'Liberation Serif',serif" font-size="14.4px"><tspan x="710.8">7</tspan><tspan x="767.3" font-size="12px">K</tspan><tspan x="794.6">(</tspan><tspan x="867.2">:</tspan><tspan x="874.6">2</tspan><tspan x="924.6">:</tspan><tspan x="932">1</tspan></text><path d="M658.9 444.5V773.6H963.5" fill="none" stroke="#f00000" stroke-width="1.1"/><polyline points="660.9,491.2 663.9,491.5 666.9,490.9 670,490.6 673,491.6 676,491.7 679.1,495.3 682.1,496.6 685.2,498 688.2,495.1 691.2,493.6 694.3,493.5 697.3,494.9 700.3,494.7 703.4,493.6 706.4,493.4 709.5,499.1 712.5,502.1 715.5,507.2 718.6,510.3 721.6,512.1 724.6,508.6 727.7,506.6 730.7,508.8 733.7,510.2 736.8,510.9 739.8,509 742.9,508.4 745.9,509.5 748.9,516.4 752,521.3 755,523.7 758,523.9 761.1,522.3 764.1,522.7 767.2,522.3 770.2,521.9 773.2,522.7 776.3,522.8 779.3,522.1 782.3,522.8 785.4,531.3 788.4,538.1 791.5,542.9 794.5,545.4 797.5,545.6 800.6,552.3 803.6,556.1 806.6,557.3 809.7,556.5 812.7,559.2 815.7,560.7 818.8,557.8 821.8,548.7 824.9,534.9 827.9,524.9 830.9,520.9 834,509.4 837,500.5 840,493.9 843.1,489.2 846.1,481.2 849.2,475 852.2,464.2 855.2,456.7 858.3,452.3 861.3,445.4 864.3,444 867.4,447.8 870.4,461 873.5,474.1 876.5,484.6 879.5,489.6 882.6,490.9 885.6,490.9 888.6,489.9 891.7,488 894.7,486 897.7,482.4 900.8,482.4 903.8,481.6 906.9,481.8 909.9,480.4 912.9,483.2 916,484 919,483.4 922,489.1 925.1,493.2 928.1,496.1 931.2,502.1 934.2,507.7 937.2,512 940.3,523.3 943.3,533.2 946.3,541.5 949.4,547.7 952.4,551.9 955.5,557 958.5,560.5 961.5,571.3" fill="none" stroke="#5a4aa8" stroke-width="1.3"/><polyline points="660.9,530.9 663.9,531.8 666.9,532.7 670,531.4 673,532.3 676,533.2 679.1,536.3 682.1,539.4 685.2,540.3 688.2,539 691.2,537.8 694.3,536.5 697.3,535.3 700.3,536.2 703.4,537.1 706.4,540.1 709.5,545.4 712.5,550.6 715.5,553.7 718.6,556.7 721.6,557.6 724.6,556.4 727.7,555.1 730.7,556 733.7,556.9 736.8,557.8 739.8,556.6 742.9,555.3 745.9,556.2 748.9,559.3 752,562.4 755,565.4 758,568.5 761.1,571.6 764.1,572.5 767.2,573.4 770.2,572.1 773.2,570.9 776.3,571.8 779.3,572.7 782.3,575.7 785.4,578.8 788.4,581.9 791.5,584.9 794.5,588 797.5,591.1 800.6,596.3 803.6,601.5 806.6,606.7 809.7,612 812.7,615 815.7,615.9 818.8,614.7 821.8,611.3 824.9,607.9 827.9,604.4 830.9,603.2 834,599.8 837,596.4 840,593 843.1,589.6 846.1,586.1 849.2,582.7 852.2,577.2 855.2,571.6 858.3,566 861.3,558.3 864.3,550.6 867.4,542.9 870.4,535.1 873.5,529.6 876.5,526.2 879.5,522.7 882.6,521.5 885.6,522.4 888.6,523.3 891.7,524.2 894.7,527.3 897.7,530.3 900.8,531.3 903.8,532.2 906.9,535.2 909.9,538.3 912.9,543.5 916,548.7 919,554 922,561.3 925.1,568.7 928.1,576.1 931.2,581.3 934.2,584.4 937.2,587.4 940.3,592.7 943.3,597.9 946.3,603.1 949.4,608.3 952.4,613.6 955.5,616.6 958.5,619.7 961.5,624.9" fill="none" stroke="#5a4aa8" stroke-width="1.3"/><polyline points="660.9,570.5 663.9,572.1 666.9,574.5 670,572.3 673,573.1 676,574.8 679.1,577.3 682.1,582.1 685.2,582.6 688.2,582.9 691.2,581.9 694.3,579.5 697.3,575.6 700.3,577.7 703.4,580.6 706.4,586.9 709.5,591.7 712.5,599.1 715.5,600.1 718.6,603.2 721.6,603.2 724.6,604.1 727.7,603.7 730.7,603.3 733.7,603.7 736.8,604.8 739.8,604.2 742.9,602.3 745.9,603 748.9,602.2 752,603.5 755,607.1 758,613.1 761.1,620.9 764.1,622.3 767.2,624.4 770.2,622.4 773.2,619.1 776.3,620.8 779.3,623.2 782.3,628.7 785.4,626.4 788.4,625.6 791.5,627 794.5,630.6 797.5,636.5 800.6,640.3 803.6,646.9 806.6,656.1 809.7,667.4 812.7,670.9 815.7,671.2 818.8,671.6 821.8,673.9 824.9,680.8 827.9,684 830.9,685.5 834,690.2 837,692.2 840,692 843.1,689.9 846.1,691.1 849.2,690.4 852.2,690.1 855.2,686.5 858.3,679.8 861.3,671.2 864.3,657.6 867.4,637.9 870.4,609.2 873.5,585 876.5,567.7 879.5,555.9 882.6,552.1 885.6,553.9 888.6,556.7 891.7,560.4 894.7,568.6 897.7,578.3 900.8,580.1 903.8,582.7 906.9,588.6 909.9,596.1 912.9,603.8 916,613.4 919,624.5 922,633.6 925.1,644.2 928.1,656.1 931.2,660.6 934.2,661.1 937.2,662.9 940.3,662 943.3,662.5 946.3,664.8 949.4,669 952.4,675.2 955.5,676.2 958.5,678.9 961.5,678.5" fill="none" stroke="#5a4aa8" stroke-width="1.3"/><path d="M669.1 528.2v31.5M684.2 543.5v31.5M687.3 512v31.5M714.6 574.1v31.5M720.7 554.4v31.5M723.7 522.9v31.5M738.9 538.2v31.5M763.2 588.6v31.5M769.3 568.9v31.5M784.5 584.2v31.5M811.8 646.3v31.5M814.8 614.8v31.5M817.9 583.4v31.5M820.9 551.9v31.5M823.9 520.4v31.5M833.1 512.4v31.5M845.2 516v31.5M851.3 496.2v31.5M860.4 488.2v31.5M878.6 515.2v31.5M899.9 553.9v31.5M930.2 627.7v31.5M933.3 596.2v31.5M954.5 634.9v31.5" stroke="#ff0000" stroke-width="2.3" fill="none"/><path d="M660 524.5v11.7M663 536.2v11.7M666 547.9v11.7M672.1 528.2v11.7M675.1 539.9v11.7M678.2 551.6v11.7M681.2 563.3v11.7M690.3 512v11.7M693.4 523.7v11.7M696.4 535.4v11.7M699.4 547.1v11.7M702.5 558.8v11.7M705.5 570.5v11.7M708.5 582.2v11.7M711.6 593.9v11.7M717.7 574.1v11.7M726.8 522.9v11.7M729.8 534.6v11.7M732.8 546.3v11.7M735.9 558v11.7M741.9 538.2v11.7M745 549.9v11.7M748 561.6v11.7M751.1 573.3v11.7M754.1 585v11.7M757.1 596.7v11.7M760.2 608.4v11.7M766.2 588.6v11.7M772.3 568.9v11.7M775.4 580.6v11.7M778.4 592.3v11.7M781.4 604v11.7M787.5 584.2v11.7M790.5 595.9v11.7M793.6 607.6v11.7M796.6 619.3v11.7M799.7 631v11.7M802.7 642.7v11.7M805.7 654.4v11.7M808.8 666.1v11.7M827 520.4v11.7M830 532.1v11.7M836.1 512.4v11.7M839.1 524.1v11.7M842.2 535.8v11.7M848.2 516v11.7M854.3 496.2v11.7M857.4 507.9v11.7M863.4 488.2v11.7M866.5 499.9v11.7M869.5 511.5v11.7M872.5 523.2v11.7M875.6 534.9v11.7M881.7 515.2v11.7M884.7 526.9v11.7M887.7 538.6v11.7M890.8 550.3v11.7M893.8 562v11.7M896.8 573.7v11.7M902.9 553.9v11.7M905.9 565.6v11.7M909 577.3v11.7M912 589v11.7M915.1 600.7v11.7M918.1 612.4v11.7M921.1 624.1v11.7M924.2 635.8v11.7M927.2 647.5v11.7M936.3 596.2v11.7M939.4 607.9v11.7M942.4 619.6v11.7M945.4 631.3v11.7M948.5 643v11.7M951.5 654.7v11.7M957.6 634.9v11.7M960.6 646.6v11.7" stroke="#00e6e6" stroke-width="2.3" fill="none"/><path d="M669.1 732.5V735.3M672.1 732.5V735.2M684.2 732.5V736.7M687.3 732.5V732.2M690.3 732.5V730.5M693.4 732.5V730.5M714.6 732.5V739.2M717.7 732.5V738.4M720.7 732.5V734.7M723.7 732.5V729.3M726.8 732.5V727M729.8 732.5V726.8M738.9 732.5V728.3M763.2 732.5V738.5M766.2 732.5V737.9M769.3 732.5V734.2M772.3 732.5V732.8M775.4 732.5V732.8M784.5 732.5V732.9M787.5 732.5V732.4M811.8 732.5V739.5M814.8 732.5V734.5M817.9 732.5V728.2M820.9 732.5V721.4M823.9 732.5V714.8M827 732.5V712.4M833.1 732.5V711.4M851.3 732.5V720.8M860.4 732.5V724.2M878.6 732.5V737M899.9 732.5V743.8M902.9 732.5V742.9M905.9 732.5V742.8M930.2 732.5V744.6M933.3 732.5V738.8M936.3 732.5V735.7M939.4 732.5V734.4M942.4 732.5V734.2M954.5 732.5V734.7M957.6 732.5V733.8" stroke="#ff0000" stroke-width="2.25" fill="none"/><path d="M660 732.5V733.1M663 732.5V735M666 732.5V737.1M675.1 732.5V735.9M678.2 732.5V737.2M681.2 732.5V738.8M696.4 732.5V731.5M699.4 732.5V733.3M702.5 732.5V735.3M705.5 732.5V737.4M708.5 732.5V739.5M711.6 732.5V741.4M732.8 732.5V727.9M735.9 732.5V729.8M741.9 732.5V728.5M745 732.5V729.8M748 732.5V731.7M751.1 732.5V734M754.1 732.5V736.3M757.1 732.5V738.5M760.2 732.5V740.6M778.4 732.5V733.7M781.4 732.5V735.1M790.5 732.5V733M793.6 732.5V734.2M796.6 732.5V735.8M799.7 732.5V737.5M802.7 732.5V739.2M805.7 732.5V740.8M808.8 732.5V742.1M830 732.5V712.9M836.1 732.5V712.6M839.1 732.5V715.4M842.2 732.5V719.2M845.2 732.5V719.5M848.2 732.5V721.6M854.3 732.5V722.1M857.4 732.5V724.8M863.4 732.5V725.6M866.5 732.5V728.1M869.5 732.5V731.2M872.5 732.5V734.5M875.6 732.5V737.7M881.7 732.5V737.5M884.7 732.5V738.9M887.7 732.5V740.6M890.8 732.5V742.5M893.8 732.5V744.4M896.8 732.5V746.1M909 732.5V743.4M912 732.5V744.2M915.1 732.5V745.1M918.1 732.5V746M921.1 732.5V746.8M924.2 732.5V747.5M927.2 732.5V748M945.4 732.5V734.9M948.5 732.5V735.9M951.5 732.5V737.2M960.6 732.5V734" stroke="#00e6e6" stroke-width="2.25" fill="none"/><polyline points="660,730.5 663,731.1 666,732.3 669.1,733 672.1,733.6 675.1,734.5 678.2,735.7 681.2,737.3 684.2,738.3 687.3,738.2 690.3,737.7 693.4,737.2 696.4,737 699.4,737.2 702.5,737.9 705.5,739.1 708.5,740.8 711.6,743.1 714.6,744.7 717.7,746.2 720.7,746.7 723.7,746 726.8,744.6 729.8,743.2 732.8,742 735.9,741.3 738.9,740.3 741.9,739.3 745,738.6 748,738.4 751.1,738.8 754.1,739.7 757.1,741.2 760.2,743.3 763.2,744.8 766.2,746.1 769.3,746.5 772.3,746.6 775.4,746.7 778.4,747 781.4,747.6 784.5,747.7 787.5,747.7 790.5,747.8 793.6,748.2 796.6,749.1 799.7,750.3 802.7,752 805.7,754 808.8,756.5 811.8,758.2 814.8,758.7 817.9,757.6 820.9,754.8 823.9,750.4 827,745.4 830,740.5 833.1,735.2 836.1,730.3 839.1,726 842.2,722.6 845.2,719.4 848.2,716.7 851.3,713.7 854.3,711.2 857.4,709.2 860.4,707.1 863.4,705.4 866.5,704.3 869.5,704 872.5,704.5 875.6,705.8 878.6,706.9 881.7,708.2 884.7,709.8 887.7,711.8 890.8,714.3 893.8,717.2 896.8,720.6 899.9,723.5 902.9,726.1 905.9,728.6 909,731.4 912,734.3 915.1,737.4 918.1,740.8 921.1,744.3 924.2,748.1 927.2,752 930.2,755 933.3,756.6 936.3,757.4 939.4,757.8 942.4,758.3 945.4,758.8 948.5,759.7 951.5,760.9 954.5,761.4 957.6,761.8 960.6,762.1" fill="none" stroke="#00aa00" stroke-width="1.3"/><polyline points="660,731.1 663,733.6 666,736.8 669.1,735.8 672.1,736.3 675.1,737.9 678.2,740.4 681.2,743.6 684.2,742.5 687.3,738 690.3,735.7 693.4,735.2 696.4,736 699.4,737.9 702.5,740.7 705.5,744 708.5,747.8 711.6,751.9 714.6,751.4 717.7,752.1 720.7,748.9 723.7,742.8 726.8,739.1 729.8,737.5 732.8,737.4 735.9,738.7 738.9,736 741.9,735.3 745,735.9 748,737.7 751.1,740.3 754.1,743.5 757.1,747.3 760.2,751.3 763.2,750.8 766.2,751.4 769.3,748.3 772.3,746.9 775.4,747 778.4,748.1 781.4,750.2 784.5,748.1 787.5,747.6 790.5,748.3 793.6,750 796.6,752.4 799.7,755.3 802.7,758.7 805.7,762.3 808.8,766.1 811.8,765.2 814.8,760.6 817.9,753.3 820.9,743.8 823.9,732.7 827,725.3 830,720.9 833.1,714.1 836.1,710.3 839.1,708.9 842.2,709.3 845.2,706.4 848.2,705.8 851.3,702.1 854.3,700.8 857.4,701.5 860.4,698.9 863.4,698.5 866.5,699.9 869.5,702.7 872.5,706.5 875.6,711 878.6,711.4 881.7,713.2 884.7,716.1 887.7,719.9 890.8,724.3 893.8,729.1 896.8,734.2 899.9,734.7 902.9,736.4 905.9,739 909,742.2 912,745.9 915.1,750 918.1,754.2 921.1,758.6 924.2,763.1 927.2,767.5 930.2,767.1 933.3,762.9 936.3,760.5 939.4,759.7 942.4,760 945.4,761.2 948.5,763.1 951.5,765.6 954.5,763.7 957.6,763.1 960.6,763.6" fill="none" stroke="#cdcdcd" stroke-width="1.3"/></g><g><text y="432.7" fill="#f2f2f2" font-family="'Liberation Sans','Noto Sans CJK SC',sans-serif" font-size="16px"><tspan x="984.6">【</tspan><tspan x="1002.7">毒胆</tspan><tspan x="1045">】</tspan><tspan x="1060">频率</tspan><tspan x="1101">线</tspan><tspan x="1125.5">当前遗漏</tspan><tspan x="1215.6">周期</tspan></text><text y="433.2" fill="#ececec" font-family="'Liberation Serif',serif" font-size="14.4px"><tspan x="1035.8">8</tspan><tspan x="1092.3" font-size="12px">K</tspan><tspan x="1119.6">(</tspan><tspan x="1192.2">:</tspan><tspan x="1199.6">0</tspan><tspan x="1249.6">:</tspan><tspan x="1257">1</tspan></text><path d="M983.9 444.5V773.6H1288.5" fill="none" stroke="#f00000" stroke-width="1.1"/><polyline points="985.9,457.8 988.9,455.9 991.9,455.5 995,457 998,457.3 1001,457.4 1004.1,457.2 1007.1,456.6 1010.2,455.7 1013.2,454.3 1016.2,452.5 1019.3,450.3 1022.3,447.9 1025.3,445.9 1028.4,445.7 1031.4,446.9 1034.5,447.5 1037.5,450.4 1040.5,452.9 1043.6,459 1046.6,466.2 1049.6,473.3 1052.7,480.1 1055.7,486.7 1058.7,492.8 1061.8,498.3 1064.8,502.9 1067.9,506.4 1070.9,508.7 1073.9,509.8 1077,509.8 1080,509.1 1083,507.8 1086.1,506.1 1089.1,506.9 1092.2,507.2 1095.2,507.1 1098.2,506.8 1101.3,506.3 1104.3,505.5 1107.3,509.1 1110.4,516.2 1113.4,523.9 1116.5,531 1119.5,538 1122.5,544.7 1125.6,551.2 1128.6,557.3 1131.6,562.3 1134.7,566.9 1137.7,571 1140.7,574.3 1143.8,576.6 1146.8,577.8 1149.9,577.9 1152.9,577.1 1155.9,575.6 1159,573.7 1162,571.5 1165,569 1168.1,567 1171.1,564.9 1174.2,564.5 1177.2,567.2 1180.2,569.6 1183.3,571.8 1186.3,573.8 1189.3,577.3 1192.4,585.1 1195.4,592.7 1198.5,600 1201.5,607.1 1204.5,614.1 1207.6,619.5 1210.6,621.4 1213.6,623.2 1216.7,624.7 1219.7,626.1 1222.7,623.9 1225.8,617.8 1228.8,613.3 1231.9,610.1 1234.9,607.9 1237.9,603.8 1241,597.7 1244,594.5 1247,590.2 1250.1,586.7 1253.1,579.7 1256.2,575.6 1259.2,570.2 1262.2,563.7 1265.3,553.5 1268.3,545.5 1271.3,534.8 1274.4,522.6 1277.4,514.2 1280.5,505 1283.5,497.6 1286.5,487.8" fill="none" stroke="#5a4aa8" stroke-width="1.3"/><polyline points="985.9,485.2 988.9,483.6 991.9,482 995,480.4 998,479.8 1001,480.2 1004.1,480.6 1007.1,481.1 1010.2,481.5 1013.2,483 1016.2,484.4 1019.3,485.9 1022.3,487.3 1025.3,489.8 1028.4,491.3 1031.4,493.8 1034.5,496.3 1037.5,499.8 1040.5,503.3 1043.6,507.9 1046.6,511.4 1049.6,513.9 1052.7,516.4 1055.7,518.9 1058.7,521.3 1061.8,523.8 1064.8,526.3 1067.9,528.8 1070.9,531.3 1073.9,533.8 1077,536.3 1080,538.8 1083,541.3 1086.1,543.8 1089.1,547.3 1092.2,550.8 1095.2,554.3 1098.2,557.8 1101.3,561.4 1104.3,564.9 1107.3,568.4 1110.4,572.9 1113.4,576.5 1116.5,578.9 1119.5,581.4 1122.5,583.9 1125.6,586.4 1128.6,588.9 1131.6,590.4 1134.7,591.8 1137.7,593.3 1140.7,594.8 1143.8,596.2 1146.8,597.7 1149.9,599.1 1152.9,600.6 1155.9,602.1 1159,603.5 1162,605 1165,606.4 1168.1,608.9 1171.1,611.4 1174.2,614.9 1177.2,619.5 1180.2,624 1183.3,628.6 1186.3,633.1 1189.3,636.7 1192.4,640.2 1195.4,643.7 1198.5,647.2 1201.5,650.7 1204.5,653.2 1207.6,654.7 1210.6,655.1 1213.6,655.5 1216.7,656 1219.7,656.4 1222.7,655.8 1225.8,654.2 1228.8,652.6 1231.9,650.9 1234.9,649.3 1237.9,646.7 1241,643 1244,639.3 1247,634.6 1250.1,630.9 1253.1,627.2 1256.2,623.5 1259.2,618.8 1262.2,613.1 1265.3,607.3 1268.3,602.6 1271.3,597.9 1274.4,592.2 1277.4,586.4 1280.5,579.6 1283.5,573.9 1286.5,568.2" fill="none" stroke="#5a4aa8" stroke-width="1.3"/><polyline points="985.9,512.7 988.9,511.4 991.9,508.5 995,503.7 998,502.2 1001,503 1004.1,504.1 1007.1,505.5 1010.2,507.3 1013.2,511.6 1016.2,516.4 1019.3,521.5 1022.3,526.8 1025.3,533.8 1028.4,536.9 1031.4,540.7 1034.5,545.1 1037.5,549.2 1040.5,553.8 1043.6,556.7 1046.6,556.5 1049.6,554.4 1052.7,552.6 1055.7,551 1058.7,549.9 1061.8,549.4 1064.8,549.7 1067.9,551.2 1070.9,553.9 1073.9,557.8 1077,562.8 1080,568.5 1083,574.7 1086.1,581.4 1089.1,587.7 1092.2,594.4 1095.2,601.5 1098.2,608.9 1101.3,616.4 1104.3,624.2 1107.3,627.7 1110.4,629.7 1113.4,629 1116.5,626.9 1119.5,624.9 1122.5,623.1 1125.6,621.6 1128.6,620.5 1131.6,618.4 1134.7,616.7 1137.7,615.6 1140.7,615.2 1143.8,615.8 1146.8,617.6 1149.9,620.4 1152.9,624.1 1155.9,628.5 1159,633.3 1162,638.5 1165,643.9 1168.1,650.8 1171.1,658 1174.2,665.4 1177.2,671.8 1180.2,678.5 1183.3,685.4 1186.3,692.5 1189.3,695.5 1192.4,695.3 1195.4,694.7 1198.5,694.4 1201.5,694.3 1204.5,692.3 1207.6,689.9 1210.6,688.8 1213.6,687.9 1216.7,687.2 1219.7,686.8 1222.7,687.7 1225.8,690.5 1228.8,691.8 1231.9,691.8 1234.9,690.7 1237.9,689.5 1241,688.2 1244,684.1 1247,679 1250.1,675.1 1253.1,674.7 1256.2,671.4 1259.2,667.5 1262.2,662.4 1265.3,661.1 1268.3,659.7 1271.3,661 1274.4,661.7 1277.4,658.6 1280.5,654.3 1283.5,650.2 1286.5,648.5" fill="none" stroke="#5a4aa8" stroke-width="1.3"/><path d="M1027.5 518.6v15M1045.7 531.4v15M1048.7 516.4v15M1106.4 601.8v15M1112.5 592.4v15M1115.5 577.4v15M1130.7 584.7v15M1188.4 670.1v15M1191.5 655.1v15M1203.6 656.8v15M1206.7 641.8v15M1209.7 626.8v15M1221.8 628.5v15M1224.9 613.5v15M1237 615.3v15M1240.1 600.3v15M1246.1 590.8v15M1252.2 581.4v15M1258.3 572v15M1261.3 557v15M1264.4 542v15M1270.4 532.5v15M1273.5 517.5v15M1279.5 508.1v15M1285.6 498.7v15" stroke="#ff0000" stroke-width="2.3" fill="none"/><path d="M985 455.5v5.6M988 461.1v5.6M991 466.6v5.6M994.1 472.2v5.6M997.1 477.8v5.6M1000.1 483.4v5.6M1003.2 488.9v5.6M1006.2 494.5v5.6M1009.2 500.1v5.6M1012.3 505.7v5.6M1015.3 511.2v5.6M1018.4 516.8v5.6M1021.4 522.4v5.6M1024.4 528v5.6M1030.5 518.6v5.6M1033.5 524.1v5.6M1036.6 529.7v5.6M1039.6 535.3v5.6M1042.7 540.9v5.6M1051.8 516.4v5.6M1054.8 522v5.6M1057.8 527.6v5.6M1060.9 533.2v5.6M1063.9 538.7v5.6M1066.9 544.3v5.6M1070 549.9v5.6M1073 555.5v5.6M1076.1 561.1v5.6M1079.1 566.6v5.6M1082.1 572.2v5.6M1085.2 577.8v5.6M1088.2 583.4v5.6M1091.2 588.9v5.6M1094.3 594.5v5.6M1097.3 600.1v5.6M1100.4 605.7v5.6M1103.4 611.2v5.6M1109.5 601.8v5.6M1118.6 577.4v5.6M1121.6 583v5.6M1124.7 588.5v5.6M1127.7 594.1v5.6M1133.8 584.7v5.6M1136.8 590.3v5.6M1139.8 595.9v5.6M1142.9 601.4v5.6M1145.9 607v5.6M1148.9 612.6v5.6M1152 618.2v5.6M1155 623.7v5.6M1158.1 629.3v5.6M1161.1 634.9v5.6M1164.1 640.5v5.6M1167.2 646v5.6M1170.2 651.6v5.6M1173.2 657.2v5.6M1176.3 662.8v5.6M1179.3 668.4v5.6M1182.4 673.9v5.6M1185.4 679.5v5.6M1194.5 655.1v5.6M1197.5 660.7v5.6M1200.6 666.2v5.6M1212.7 626.8v5.6M1215.8 632.4v5.6M1218.8 638v5.6M1227.9 613.5v5.6M1230.9 619.1v5.6M1234 624.7v5.6M1243.1 600.3v5.6M1249.2 590.8v5.6M1255.2 581.4v5.6M1267.4 542v5.6M1276.5 517.5v5.6M1282.6 508.1v5.6" stroke="#00e6e6" stroke-width="2.3" fill="none"/><path d="M985 736.9V733.3M1027.5 736.9V743.4M1030.5 736.9V742.5M1033.5 736.9V742M1036.6 736.9V741.8M1039.6 736.9V741.8M1045.7 736.9V740.4M1048.7 736.9V738M1051.8 736.9V736.7M1054.8 736.9V736.3M1103.4 736.9V741.8M1106.4 736.9V740.1M1109.5 736.9V739.1M1112.5 736.9V737M1115.5 736.9V734.2M1118.6 736.9V732.9M1121.6 736.9V732.4M1130.7 736.9V732.4M1133.8 736.9V732.4M1185.4 736.9V741.5M1188.4 736.9V739.8M1191.5 736.9V737.2M1194.5 736.9V735.8M1197.5 736.9V735.1M1200.6 736.9V735M1203.6 736.9V733.6M1206.7 736.9V731.6M1209.7 736.9V729.2M1212.7 736.9V728.3M1221.8 736.9V728.9M1224.9 736.9V727.8M1237 736.9V730.2M1240.1 736.9V729.3M1246.1 736.9V729M1252.2 736.9V729.1M1258.3 736.9V729.4M1261.3 736.9V728.5M1264.4 736.9V727.4M1270.4 736.9V727.4M1273.5 736.9V726.7" stroke="#ff0000" stroke-width="2.25" fill="none"/><path d="M988 736.9V734.1M991 736.9V735.2M994.1 736.9V736.5M997.1 736.9V737.9M1000.1 736.9V739.2M1003.2 736.9V740.4M1006.2 736.9V741.5M1009.2 736.9V742.4M1012.3 736.9V743.2M1015.3 736.9V743.8M1018.4 736.9V744.3M1021.4 736.9V744.6M1024.4 736.9V744.9M1042.7 736.9V741.8M1057.8 736.9V736.3M1060.9 736.9V736.7M1063.9 736.9V737.3M1066.9 736.9V738M1070 736.9V738.6M1073 736.9V739.3M1076.1 736.9V739.9M1079.1 736.9V740.4M1082.1 736.9V740.8M1085.2 736.9V741.2M1088.2 736.9V741.4M1091.2 736.9V741.6M1094.3 736.9V741.8M1097.3 736.9V741.8M1100.4 736.9V741.8M1124.7 736.9V732.6M1127.7 736.9V733.2M1136.8 736.9V732.8M1139.8 736.9V733.6M1142.9 736.9V734.6M1145.9 736.9V735.6M1148.9 736.9V736.6M1152 736.9V737.5M1155 736.9V738.3M1158.1 736.9V739M1161.1 736.9V739.7M1164.1 736.9V740.2M1167.2 736.9V740.6M1170.2 736.9V740.9M1173.2 736.9V741.2M1176.3 736.9V741.3M1179.3 736.9V741.4M1182.4 736.9V741.5M1215.8 736.9V728.5M1218.8 736.9V729.3M1227.9 736.9V727.9M1230.9 736.9V728.8M1234 736.9V730.2M1243.1 736.9V729.6M1249.2 736.9V729.5M1255.2 736.9V729.7M1267.4 736.9V727.7M1276.5 736.9V727.4M1279.5 736.9V727.4M1282.6 736.9V728.6M1285.6 736.9V728.9" stroke="#00e6e6" stroke-width="2.25" fill="none"/><polyline points="985,728.9 988,728.2 991,727.8 994.1,727.7 997.1,727.9 1000.1,728.5 1003.2,729.3 1006.2,730.5 1009.2,731.8 1012.3,733.4 1015.3,735.1 1018.4,737 1021.4,738.9 1024.4,740.9 1027.5,742.5 1030.5,743.9 1033.5,745.1 1036.6,746.4 1039.6,747.6 1042.7,748.8 1045.7,749.7 1048.7,749.9 1051.8,749.9 1054.8,749.7 1057.8,749.6 1060.9,749.5 1063.9,749.6 1066.9,749.8 1070,750.3 1073,750.9 1076.1,751.6 1079.1,752.4 1082.1,753.4 1085.2,754.5 1088.2,755.6 1091.2,756.8 1094.3,758 1097.3,759.2 1100.4,760.4 1103.4,761.6 1106.4,762.4 1109.5,763 1112.5,763 1115.5,762.3 1118.6,761.3 1121.6,760.2 1124.7,759.1 1127.7,758.1 1130.7,757 1133.8,755.9 1136.8,754.8 1139.8,754 1142.9,753.4 1145.9,753.1 1148.9,753 1152,753.1 1155,753.5 1158.1,754 1161.1,754.7 1164.1,755.5 1167.2,756.4 1170.2,757.4 1173.2,758.5 1176.3,759.6 1179.3,760.7 1182.4,761.8 1185.4,763 1188.4,763.7 1191.5,763.8 1194.5,763.5 1197.5,763 1200.6,762.5 1203.6,761.7 1206.7,760.4 1209.7,758.4 1212.7,756.3 1215.8,754.2 1218.8,752.2 1221.8,750.2 1224.9,748 1227.9,745.7 1230.9,743.7 1234,742 1237,740.3 1240.1,738.4 1243.1,736.6 1246.1,734.6 1249.2,732.8 1252.2,730.8 1255.2,729 1258.3,727.1 1261.3,725 1264.4,722.6 1267.4,720.3 1270.4,717.9 1273.5,715.4 1276.5,713 1279.5,710.6 1282.6,708.6 1285.6,706.5" fill="none" stroke="#00aa00" stroke-width="1.3"/><polyline points="985,725.3 988,725.3 991,726 994.1,727.2 997.1,728.8 1000.1,730.7 1003.2,732.8 1006.2,735 1009.2,737.3 1012.3,739.6 1015.3,742 1018.4,744.3 1021.4,746.6 1024.4,748.8 1027.5,748.9 1030.5,749.5 1033.5,750.3 1036.6,751.3 1039.6,752.4 1042.7,753.7 1045.7,753.1 1048.7,750.9 1051.8,749.7 1054.8,749 1057.8,749 1060.9,749.3 1063.9,750 1066.9,750.9 1070,752 1073,753.2 1076.1,754.5 1079.1,755.9 1082.1,757.3 1085.2,758.7 1088.2,760.1 1091.2,761.5 1094.3,762.8 1097.3,764.1 1100.4,765.3 1103.4,766.5 1106.4,765.6 1109.5,765.2 1112.5,763.1 1115.5,759.6 1118.6,757.2 1121.6,755.7 1124.7,754.8 1127.7,754.4 1130.7,752.4 1133.8,751.3 1136.8,750.7 1139.8,750.7 1142.9,751.1 1145.9,751.7 1148.9,752.6 1152,753.7 1155,754.9 1158.1,756.1 1161.1,757.4 1164.1,758.8 1167.2,760.1 1170.2,761.4 1173.2,762.7 1176.3,764 1179.3,765.2 1182.4,766.4 1185.4,767.5 1188.4,766.6 1191.5,764.1 1194.5,762.3 1197.5,761.2 1200.6,760.6 1203.6,758.4 1206.7,755 1209.7,750.7 1212.7,747.6 1215.8,745.7 1218.8,744.6 1221.8,742.2 1224.9,738.8 1227.9,736.7 1230.9,735.6 1234,735.2 1237,733.6 1240.1,730.8 1243.1,729.3 1246.1,726.7 1249.2,725.3 1252.2,723 1255.2,721.8 1258.3,719.6 1261.3,716.6 1264.4,713.1 1267.4,711.1 1270.4,708.4 1273.5,705.1 1276.5,703.5 1279.5,701.1 1282.6,700.2 1285.6,698.5" fill="none" stroke="#cdcdcd" stroke-width="1.3"/></g><g><text y="432.7" fill="#f2f2f2" font-family="'Liberation Sans','Noto Sans CJK SC',sans-serif" font-size="16px"><tspan x="1309.6">【</tspan><tspan x="1327.7">毒胆</tspan><tspan x="1370">】</tspan><tspan x="1385">频率</tspan><tspan x="1426">线</tspan><tspan x="1450.5">当前遗漏</tspan><tspan x="1540.6">周期</tspan><tspan x="1598">理</tspan></text><text y="433.2" fill="#ececec" font-family="'Liberation Serif',serif" font-size="14.4px"><tspan x="1360.8">9</tspan><tspan x="1417.3" font-size="12px">K</tspan><tspan x="1444.6">(</tspan><tspan x="1517.2">:</tspan><tspan x="1524.6">5</tspan><tspan x="1574.6">:</tspan><tspan x="1582">1</tspan></text><path d="M1308.8 444.5V773.6H1617.5" fill="none" stroke="#f00000" stroke-width="1.1"/><polyline points="1311.4,529.4 1314.5,531.1 1317.6,528.1 1320.7,527.1 1323.7,529 1326.8,529.5 1329.9,528.9 1333,527.1 1336.1,526.1 1339.1,523.1 1342.2,518.7 1345.3,513.6 1348.4,507.9 1351.5,504 1354.5,505.5 1357.6,510.7 1360.7,515.7 1363.8,519.6 1366.8,522.1 1369.9,529.8 1373,536.4 1376.1,541.7 1379.2,553.3 1382.2,557.6 1385.3,550.9 1388.4,545.6 1391.5,541.3 1394.6,538 1397.6,535.6 1400.7,534 1403.8,533.3 1406.9,529.9 1410,529.3 1413,531.7 1416.1,538.2 1419.2,540.3 1422.3,539.3 1425.3,537.8 1428.4,535.7 1431.5,535.6 1434.6,534.9 1437.7,533.7 1440.7,534.2 1443.8,538.2 1446.9,548.9 1450,553 1453.1,556.6 1456.1,559.6 1459.2,554.6 1462.3,551 1465.4,548.6 1468.5,551 1471.5,552.7 1474.6,553.7 1477.7,554 1480.8,553.6 1483.8,552.7 1486.9,553.2 1490,553 1493.1,546.1 1496.2,533.3 1499.2,526.8 1502.3,521.7 1505.4,519.7 1508.5,512 1511.6,499.6 1514.6,490.5 1517.7,475 1520.8,465.2 1523.9,457.8 1527,452.4 1530,449 1533.1,447.6 1536.2,448.2 1539.3,451.3 1542.3,457.2 1545.4,468 1548.5,475.7 1551.6,478.4 1554.7,477.1 1557.7,477.9 1560.8,478.1 1563.9,477.6 1567,476.4 1570.1,475.2 1573.1,481 1576.2,485.1 1579.3,496.9 1582.4,507.9 1585.5,517.7 1588.5,525.6 1591.6,530.4 1594.7,531.9 1597.8,530.5 1600.8,531.3 1603.9,531.1 1607,534.3 1610.1,534.8 1613.2,533.1 1616.2,529.7" fill="none" stroke="#5a4aa8" stroke-width="1.3"/><polyline points="1311.4,562.8 1314.5,561.5 1317.6,560.2 1320.7,558.9 1323.7,559.8 1326.8,560.8 1329.9,561.7 1333,562.6 1336.1,565.8 1339.1,569 1342.2,572.2 1345.3,575.4 1348.4,578.6 1351.5,584 1354.5,591.7 1357.6,597.1 1360.7,600.3 1363.8,603.5 1366.8,606.7 1369.9,609.9 1373,613.1 1376.1,616.3 1379.2,619.4 1382.2,620.4 1385.3,619.1 1388.4,617.8 1391.5,616.5 1394.6,615.2 1397.6,613.9 1400.7,612.6 1403.8,611.3 1406.9,607.7 1410,604.2 1413,600.6 1416.1,597.1 1419.2,595.8 1422.3,596.7 1425.3,597.7 1428.4,598.6 1431.5,599.6 1434.6,600.5 1437.7,601.4 1440.7,602.4 1443.8,605.6 1446.9,608.8 1450,609.7 1453.1,610.6 1456.1,611.6 1459.2,610.3 1462.3,609 1465.4,607.7 1468.5,608.6 1471.5,609.6 1474.6,610.5 1477.7,611.5 1480.8,612.4 1483.8,613.3 1486.9,612 1490,608.5 1493.1,604.9 1496.2,599.2 1499.2,593.4 1502.3,589.8 1505.4,586.3 1508.5,582.7 1511.6,579.2 1514.6,575.6 1517.7,569.8 1520.8,566.3 1523.9,562.7 1527,559.2 1530,555.6 1533.1,552.1 1536.2,548.5 1539.3,545 1542.3,541.5 1545.4,535.7 1548.5,532.1 1551.6,530.8 1554.7,531.8 1557.7,532.7 1560.8,533.6 1563.9,534.6 1567,535.5 1570.1,538.7 1573.1,541.9 1576.2,545.1 1579.3,548.3 1582.4,551.5 1585.5,554.7 1588.5,557.8 1591.6,561 1594.7,564.2 1597.8,567.4 1600.8,568.4 1603.9,569.3 1607,572.5 1610.1,575.7 1613.2,578.9 1616.2,582" fill="none" stroke="#5a4aa8" stroke-width="1.3"/><polyline points="1311.4,596.2 1314.5,591.8 1317.6,592.3 1320.7,590.6 1323.7,590.7 1326.8,592 1329.9,594.6 1333,598.1 1336.1,605.6 1339.1,615 1342.2,625.7 1345.3,637.2 1348.4,649.2 1351.5,664 1354.5,677.9 1357.6,683.6 1360.7,684.9 1363.8,687.5 1366.8,691.3 1369.9,689.9 1373,689.7 1376.1,690.8 1379.2,685.6 1382.2,683.2 1385.3,687.2 1388.4,690 1391.5,691.6 1394.6,692.3 1397.6,692.1 1400.7,691.1 1403.8,689.3 1406.9,685.5 1410,679.1 1413,669.5 1416.1,656 1419.2,651.3 1422.3,654.1 1425.3,657.5 1428.4,661.5 1431.5,663.5 1434.6,666.1 1437.7,669.2 1440.7,670.6 1443.8,673 1446.9,668.6 1450,666.4 1453.1,664.7 1456.1,663.6 1459.2,666 1462.3,667 1465.4,666.8 1468.5,666.3 1471.5,666.5 1474.6,667.4 1477.7,668.9 1480.8,671.1 1483.8,674 1486.9,670.9 1490,664 1493.1,663.8 1496.2,665 1499.2,659.9 1502.3,657.9 1505.4,652.8 1508.5,653.4 1511.6,658.7 1514.6,660.8 1517.7,664.7 1520.8,667.3 1523.9,667.7 1527,665.9 1530,662.3 1533.1,656.6 1536.2,648.9 1539.3,638.7 1542.3,625.7 1545.4,603.3 1548.5,588.5 1551.6,583.2 1554.7,586.4 1557.7,587.5 1560.8,589.2 1563.9,591.6 1567,594.6 1570.1,602.2 1573.1,602.8 1576.2,605.1 1579.3,599.7 1582.4,595 1585.5,591.6 1588.5,590.1 1591.6,591.6 1594.7,596.5 1597.8,604.3 1600.8,605.4 1603.9,607.5 1607,610.7 1610.1,616.5 1613.2,624.6 1616.2,634.4" fill="none" stroke="#5a4aa8" stroke-width="1.3"/><path d="M1316.7 536.6v32.7M1356.7 649.9v32.7M1359.8 617.1v32.7M1369 608.7v32.7M1378.2 600.3v32.7M1381.3 567.6v32.7M1384.4 534.9v32.7M1405.9 575.2v32.7M1430.6 627.6v32.7M1439.8 619.2v32.7M1446 598.6v32.7M1449.1 565.9v32.7M1458.3 557.5v32.7M1486 622.1v32.7M1489.1 589.4v32.7M1492.2 556.7v32.7M1495.2 523.9v32.7M1507.6 527.7v32.7M1510.6 495v32.7M1516.8 474.4v32.7M1544.5 539v32.7M1556.8 542.8v32.7M1572.2 558.7v32.7M1578.4 538.2v32.7M1599.9 578.4v32.7" stroke="#ff0000" stroke-width="2.3" fill="none"/><path d="M1310.5 545v12.2M1313.6 557.1v12.2M1319.7 536.6v12.2M1322.8 548.8v12.2M1325.9 560.9v12.2M1329 573.1v12.2M1332.1 585.3v12.2M1335.1 597.4v12.2M1338.2 609.6v12.2M1341.3 621.8v12.2M1344.4 633.9v12.2M1347.4 646.1v12.2M1350.5 658.3v12.2M1353.6 670.4v12.2M1362.8 617.1v12.2M1365.9 629.3v12.2M1372.1 608.7v12.2M1375.2 620.9v12.2M1387.5 534.9v12.2M1390.6 547v12.2M1393.6 559.2v12.2M1396.7 571.4v12.2M1399.8 583.5v12.2M1402.9 595.7v12.2M1409 575.2v12.2M1412.1 587.3v12.2M1415.2 599.5v12.2M1418.3 611.7v12.2M1421.3 623.8v12.2M1424.4 636v12.2M1427.5 648.2v12.2M1433.7 627.6v12.2M1436.7 639.8v12.2M1442.9 619.2v12.2M1452.1 565.9v12.2M1455.2 578.1v12.2M1461.4 557.5v12.2M1464.5 569.7v12.2M1467.5 581.8v12.2M1470.6 594v12.2M1473.7 606.2v12.2M1476.8 618.3v12.2M1479.8 630.5v12.2M1482.9 642.7v12.2M1498.3 523.9v12.2M1501.4 536.1v12.2M1504.5 548.3v12.2M1513.7 495v12.2M1519.9 474.4v12.2M1523 486.6v12.2M1526 498.7v12.2M1529.1 510.9v12.2M1532.2 523.1v12.2M1535.3 535.2v12.2M1538.3 547.4v12.2M1541.4 559.6v12.2M1547.6 539v12.2M1550.7 551.2v12.2M1553.7 563.3v12.2M1559.9 542.8v12.2M1563 554.9v12.2M1566.1 567.1v12.2M1569.1 579.3v12.2M1575.3 558.7v12.2M1581.5 538.2v12.2M1584.5 550.3v12.2M1587.6 562.5v12.2M1590.7 574.7v12.2M1593.8 586.8v12.2M1596.8 599v12.2M1603 578.4v12.2M1606.1 590.6v12.2M1609.2 602.8v12.2M1612.2 614.9v12.2M1615.3 627.1v12.2" stroke="#00e6e6" stroke-width="2.3" fill="none"/><path d="M1316.7 733.1V729.9M1319.7 733.1V729.7M1356.7 733.1V742.5M1359.8 733.1V737.6M1362.8 733.1V735M1365.9 733.1V733.9M1369 733.1V730.5M1372.1 733.1V729.2M1378.2 733.1V726.8M1381.3 733.1V723M1384.4 733.1V718.6M1387.5 733.1V717.3M1405.9 733.1V729.3M1430.6 733.1V740.1M1433.7 733.1V739.4M1439.8 733.1V736.7M1442.9 733.1V735.5M1446 733.1V732.2M1449.1 733.1V727.6M1452.1 733.1V725.9M1458.3 733.1V723.9M1486 733.1V738.7M1489.1 733.1V735.1M1492.2 733.1V730.3M1495.2 733.1V725M1498.3 733.1V723M1507.6 733.1V723.9M1510.6 733.1V721.4M1516.8 733.1V719.9M1544.5 733.1V741M1556.8 733.1V740.7M1559.9 733.1V739.9M1572.2 733.1V739.6M1575.3 733.1V738.8M1578.4 733.1V735.6M1581.5 733.1V734.4M1599.9 733.1V737.9M1603 733.1V737.4" stroke="#ff0000" stroke-width="2.25" fill="none"/><path d="M1310.5 733.1V731.1M1313.6 733.1V731.9M1322.8 733.1V730.6M1325.9 733.1V732.1M1329 733.1V734M1332.1 733.1V735.9M1335.1 733.1V737.9M1338.2 733.1V739.7M1341.3 733.1V741.3M1344.4 733.1V742.6M1347.4 733.1V743.8M1350.5 733.1V744.7M1353.6 733.1V745.3M1375.2 733.1V729.2M1390.6 733.1V718.1M1393.6 733.1V720.2M1396.7 733.1V723.1M1399.8 733.1V726.3M1402.9 733.1V729.5M1409 733.1V730.3M1412.1 733.1V732M1415.2 733.1V734M1418.3 733.1V736.2M1421.3 733.1V738.3M1424.4 733.1V740.2M1427.5 733.1V741.9M1436.7 733.1V739.5M1455.2 733.1V726M1461.4 733.1V724M1464.5 733.1V725.4M1467.5 733.1V727.6M1470.6 733.1V730.2M1473.7 733.1V732.9M1476.8 733.1V735.5M1479.8 733.1V738M1482.9 733.1V740.2M1501.4 733.1V723.2M1504.5 733.1V724.8M1513.7 733.1V721.5M1519.9 733.1V720.7M1523 733.1V722.9M1526 733.1V726M1529.1 733.1V729.4M1532.2 733.1V732.9M1535.3 733.1V736.2M1538.3 733.1V739.3M1541.4 733.1V742M1547.6 733.1V741.1M1550.7 733.1V741.8M1553.7 733.1V742.8M1563 733.1V740.1M1566.1 733.1V740.8M1569.1 733.1V741.8M1584.5 733.1V734.4M1587.6 733.1V735.3M1590.7 733.1V736.6M1593.8 733.1V738.2M1596.8 733.1V739.8M1606.1 733.1V737.7M1609.2 733.1V738.4M1612.2 733.1V739.4M1615.3 733.1V740.6" stroke="#00e6e6" stroke-width="2.25" fill="none"/><polyline points="1310.5,741.3 1313.6,741 1316.7,740.2 1319.7,739.3 1322.8,738.7 1325.9,738.5 1329,738.7 1332.1,739.4 1335.1,740.6 1338.2,742.2 1341.3,744.3 1344.4,746.6 1347.4,749.3 1350.5,752.2 1353.6,755.3 1356.7,757.6 1359.8,758.7 1362.8,759.2 1365.9,759.4 1369,758.7 1372.1,757.7 1375.2,756.8 1378.2,755.2 1381.3,752.7 1384.4,749 1387.5,745.1 1390.6,741.3 1393.6,738.1 1396.7,735.6 1399.8,733.9 1402.9,733 1405.9,732.1 1409,731.4 1412.1,731.1 1415.2,731.4 1418.3,732.1 1421.3,733.4 1424.4,735.2 1427.5,737.4 1430.6,739.1 1433.7,740.7 1436.7,742.3 1439.8,743.2 1442.9,743.8 1446,743.6 1449.1,742.2 1452.1,740.4 1455.2,738.6 1458.3,736.3 1461.4,734.1 1464.5,732.2 1467.5,730.8 1470.6,730.1 1473.7,730 1476.8,730.6 1479.8,731.9 1482.9,733.6 1486,735 1489.1,735.5 1492.2,734.8 1495.2,732.8 1498.3,730.3 1501.4,727.8 1504.5,725.7 1507.6,723.4 1510.6,720.5 1513.7,717.6 1516.8,714.3 1519.9,711.2 1523,708.7 1526,706.9 1529.1,706 1532.2,705.9 1535.3,706.7 1538.3,708.2 1541.4,710.5 1544.5,712.5 1547.6,714.5 1550.7,716.6 1553.7,719.1 1556.8,721 1559.9,722.7 1563,724.4 1566.1,726.3 1569.1,728.5 1572.2,730.2 1575.3,731.6 1578.4,732.2 1581.5,732.5 1584.5,732.9 1587.6,733.4 1590.7,734.3 1593.8,735.6 1596.8,737.3 1599.9,738.5 1603,739.5 1606.1,740.7 1609.2,742 1612.2,743.6 1615.3,745.5" fill="none" stroke="#00aa00" stroke-width="1.3"/><polyline points="1310.5,739.3 1313.6,739.7 1316.7,737 1319.7,735.9 1322.8,736.2 1325.9,737.5 1329,739.5 1332.1,742.2 1335.1,745.3 1338.2,748.8 1341.3,752.4 1344.4,756.2 1347.4,760 1350.5,763.8 1353.6,767.5 1356.7,767 1359.8,763.2 1362.8,761 1365.9,760.1 1369,756.1 1372.1,753.8 1375.2,752.9 1378.2,748.9 1381.3,742.6 1384.4,734.5 1387.5,729.3 1390.6,726.4 1393.6,725.3 1396.7,725.6 1399.8,727.1 1402.9,729.5 1405.9,728.4 1409,728.6 1412.1,730 1415.2,732.3 1418.3,735.2 1421.3,738.6 1424.4,742.3 1427.5,746.2 1430.6,746.1 1433.7,747 1436.7,748.7 1439.8,746.8 1442.9,746.3 1446,742.7 1449.1,736.7 1452.1,733.2 1455.2,731.5 1458.3,727.2 1461.4,725 1464.5,724.5 1467.5,725.3 1470.6,727.2 1473.7,729.8 1476.8,733.1 1479.8,736.7 1482.9,740.7 1486,740.7 1489.1,737.6 1492.2,732 1495.2,724.7 1498.3,720.2 1501.4,717.9 1504.5,717.4 1507.6,714.2 1510.6,708.8 1513.7,706.1 1516.8,701.2 1519.9,698.8 1523,698.5 1526,699.8 1529.1,702.3 1532.2,705.7 1535.3,709.8 1538.3,714.4 1541.4,719.4 1544.5,720.4 1547.6,722.5 1550.7,725.3 1553.7,728.8 1556.8,728.5 1559.9,729.5 1563,731.4 1566.1,734.1 1569.1,737.3 1572.2,736.7 1575.3,737.3 1578.4,734.7 1581.5,733.8 1584.5,734.2 1587.6,735.7 1590.7,737.9 1593.8,740.7 1596.8,743.9 1599.9,743.3 1603,743.8 1606.1,745.2 1609.2,747.3 1612.2,749.9 1615.3,752.9" fill="none" stroke="#cdcdcd" stroke-width="1.3"/></g><linearGradient id="ag1" gradientUnits="userSpaceOnUse" x1="355" y1="199.8" x2="633.4" y2="113.3"><stop offset="0" stop-color="#0a5a0a"/><stop offset="0.35" stop-color="#1aa81a"/><stop offset="1" stop-color="#1aa81a"/></linearGradient><polygon points="355,199.9 624.1,119.8 623.5,123.9 633.4,113.3 619.2,110.2 622.1,113.3 355,199.7" fill="url(#ag1)"/><linearGradient id="ag2" gradientUnits="userSpaceOnUse" x1="700" y1="257" x2="960.2" y2="139.5"><stop offset="0" stop-color="#0a5a0a"/><stop offset="0.35" stop-color="#1aa81a"/><stop offset="1" stop-color="#1aa81a"/></linearGradient><polygon points="700.1,257.1 951.8,147 951.7,151.2 960.2,139.5 945.8,138.1 949,140.8 699.9,256.9" fill="url(#ag2)"/><linearGradient id="ag4" gradientUnits="userSpaceOnUse" x1="1327" y1="282" x2="1605" y2="143.2"><stop offset="0" stop-color="#0a5a0a"/><stop offset="0.35" stop-color="#1aa81a"/><stop offset="1" stop-color="#1aa81a"/></linearGradient><polygon points="1327.1,282.1 1596.9,151.1 1596.9,155.3 1605,143.2 1590.5,142.4 1593.8,145 1326.9,281.9" fill="url(#ag4)"/><linearGradient id="ag5" gradientUnits="userSpaceOnUse" x1="30" y1="618" x2="295" y2="553.6"><stop offset="0" stop-color="#0a5a0a"/><stop offset="0.35" stop-color="#1aa81a"/><stop offset="1" stop-color="#1aa81a"/></linearGradient><polygon points="30,618.1 285.3,559.5 284.5,563.6 295,553.6 281.1,549.6 283.7,552.8 30,617.9" fill="url(#ag5)"/></svg></body></html>
